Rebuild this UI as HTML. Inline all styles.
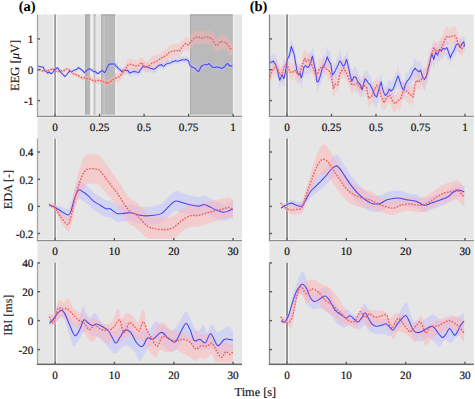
<!DOCTYPE html>
<html><head><meta charset="utf-8"><style>html,body{margin:0;padding:0;background:#fff;overflow:hidden}svg{display:block;font-family:"Liberation Serif",serif;text-rendering:geometricPrecision}</style></head>
<body><svg width="475" height="399" viewBox="0 0 475 399"><rect x="0" y="0" width="475" height="399" fill="#fff"/><rect x="37.5" y="14.5" width="204.5" height="349.8" fill="#e6e6e6"/><rect x="269.5" y="14.5" width="204.3" height="349.8" fill="#e6e6e6"/><rect x="85.3" y="14.5" width="5" height="101.9" fill="#b6b6b6"/><rect x="90.3" y="14.5" width="3.5" height="101.9" fill="#efefef"/><rect x="93.8" y="14.5" width="2" height="101.9" fill="#d0d0d0"/><rect x="101.3" y="14.5" width="3.3" height="101.9" fill="#c0c0c0"/><rect x="104.6" y="14.5" width="10.7" height="101.9" fill="#b9b9b9"/><rect x="115.3" y="14.5" width="1.5" height="101.9" fill="#eeeeee"/><rect x="190.2" y="14.5" width="42.7" height="101.9" fill="#bababa"/><rect x="232.9" y="14.5" width="1.3" height="101.9" fill="#ececec"/><line x1="85.8" y1="14.5" x2="85.8" y2="116.4" stroke="#a6a6a6" stroke-width="1"/><line x1="94.2" y1="14.5" x2="94.2" y2="116.4" stroke="#bcbcbc" stroke-width="1"/><line x1="101.8" y1="14.5" x2="101.8" y2="116.4" stroke="#a9a9a9" stroke-width="1"/><line x1="190.7" y1="14.5" x2="190.7" y2="116.4" stroke="#a9a9a9" stroke-width="1"/><line x1="85.3" y1="15" x2="90.3" y2="15" stroke="#a4a4a4" stroke-width="1"/><line x1="93.8" y1="15" x2="95.8" y2="15" stroke="#a4a4a4" stroke-width="1"/><line x1="101.3" y1="15" x2="115.3" y2="15" stroke="#a4a4a4" stroke-width="1"/><line x1="190.2" y1="15" x2="232.9" y2="15" stroke="#a4a4a4" stroke-width="1"/><defs><clipPath id="c00"><rect x="37.5" y="14.5" width="204.5" height="101.9"/></clipPath><clipPath id="c01"><rect x="37.5" y="138.5" width="204.5" height="102.1"/></clipPath><clipPath id="c02"><rect x="37.5" y="262.8" width="204.5" height="101.5"/></clipPath><clipPath id="c10"><rect x="269.5" y="14.5" width="204.3" height="101.9"/></clipPath><clipPath id="c11"><rect x="269.5" y="138.5" width="204.3" height="102.1"/></clipPath><clipPath id="c12"><rect x="269.5" y="262.8" width="204.3" height="101.5"/></clipPath></defs><line x1="55.1" y1="14.5" x2="55.1" y2="116.4" stroke="#f7f7f7" stroke-width="4"/><line x1="55.1" y1="14.5" x2="55.1" y2="116.4" stroke="#9c9c9c" stroke-width="1.8"/><line x1="55.1" y1="138.5" x2="55.1" y2="240.6" stroke="#f7f7f7" stroke-width="4"/><line x1="55.1" y1="138.5" x2="55.1" y2="240.6" stroke="#9c9c9c" stroke-width="1.8"/><line x1="55.1" y1="262.8" x2="55.1" y2="364.3" stroke="#f7f7f7" stroke-width="4"/><line x1="55.1" y1="262.8" x2="55.1" y2="364.3" stroke="#9c9c9c" stroke-width="1.8"/><line x1="287" y1="14.5" x2="287" y2="116.4" stroke="#f7f7f7" stroke-width="4"/><line x1="287" y1="14.5" x2="287" y2="116.4" stroke="#868686" stroke-width="1.8"/><line x1="287" y1="138.5" x2="287" y2="240.6" stroke="#f7f7f7" stroke-width="4"/><line x1="287" y1="138.5" x2="287" y2="240.6" stroke="#868686" stroke-width="1.8"/><line x1="287" y1="262.8" x2="287" y2="364.3" stroke="#f7f7f7" stroke-width="4"/><line x1="287" y1="262.8" x2="287" y2="364.3" stroke="#868686" stroke-width="1.8"/><g clip-path="url(#c00)"><path d="M37 64.3 L38.2 64.6 L39.5 65.2 L40.5 65.5 L41.4 65.6 L42.2 65.9 L43.1 65.3 L43.5 67 L43.9 66.8 L44.8 68.6 L45.8 69.8 L46.8 70 L47.7 72.4 L48.7 70.6 L49.6 71.3 L50.5 72.7 L51.5 71.9 L52.1 72.3 L52.8 71.9 L53.8 69.8 L54.7 67.3 L56 67.6 L57.2 66.4 L58.5 67.4 L59.7 68.9 L61 71 L62.3 72.1 L63.5 74.3 L64.8 74.8 L66 73.8 L67.3 72.8 L68.5 71.4 L69.8 68.9 L70.8 68.9 L71.7 70.7 L72.7 70.2 L73.6 69.2 L74.9 68.4 L76.2 67.4 L77.5 66.6 L78.7 65.7 L80 67 L81.2 67.1 L82.8 69.4 L84.4 71.5 L85.7 69.2 L86.9 69.1 L87.8 67.9 L88.8 68 L89.8 67.3 L90.7 68.3 L92 68.2 L93.2 69.9 L94.1 70 L95 68.8 L96.4 70.1 L97.8 71.4 L99.2 70.8 L100.6 69.3 L101.4 69.4 L102.3 68.6 L103.4 69.4 L104.6 70.2 L105.8 68.6 L106.9 66.6 L108 64.2 L109.1 62 L110.5 62.3 L111.9 60.7 L113.3 60.5 L114.8 60.6 L115.9 62.4 L117 63.1 L118.2 65.6 L119.3 66.8 L120.4 66 L121.5 68.5 L122.7 68.2 L123.8 68 L124.7 66.1 L125.5 66.9 L126.7 66.7 L127.8 66.2 L128.6 67.3 L129.4 69.7 L130.2 70.2 L131.1 68.4 L132.6 67.7 L134 67.7 L135.4 67.4 L136.8 68.5 L137.9 69.1 L139 69.1 L139.5 67.1 L140 66.1 L140.8 65.5 L141.6 65.2 L142.4 64.5 L143.3 62.4 L144.2 62.7 L145.2 63.1 L146.2 63.3 L147.2 62.3 L148.1 63.4 L149.1 64.1 L150.4 65.6 L151.7 64.5 L153 66.5 L154.3 66.4 L155.6 64.7 L156.9 63.2 L158.2 61.8 L159.5 62 L160.5 62.3 L161.5 61.8 L162.5 62 L163.5 62.9 L164.4 61.6 L165.4 60.8 L166.7 60.2 L168 59.1 L169.3 59.1 L170.6 60.4 L171.9 58.2 L173.2 58.2 L174.2 58.1 L175.2 57.2 L176.5 57.8 L177.8 57.9 L179.1 57.3 L180.4 56.5 L181.7 56.6 L183 56.7 L184.7 56.9 L186.3 55.6 L187.2 56.8 L188 57.4 L188.7 58.6 L189.3 59.5 L190 61.6 L190.7 62.3 L191.7 63.7 L192.7 63.8 L193.6 63.9 L194.6 64.4 L195.6 65.6 L196.6 67.3 L197.5 68.1 L198.4 67.7 L199.2 67.1 L200 65.8 L201 62.7 L202 63 L203 61.2 L204 61.8 L205 60.5 L206 62.4 L207 61.8 L208 60.4 L208.7 60.5 L209.3 61 L209.9 62 L210.6 61.9 L211.6 63.6 L212.6 64.5 L213.6 64.8 L214.6 64.1 L215.6 64.6 L216.6 64.2 L217.6 63.7 L218.6 63.6 L219.6 64.2 L220.6 64.7 L221.6 65.5 L222.6 65.4 L223.6 64.6 L224.6 63 L225.6 61.2 L226.6 61.8 L227.2 61 L227.9 61.3 L228.6 62.1 L229.2 63.2 L229.9 61.7 L230.6 62.4 L231.4 62.7 L232.3 63.5 L232.3 70.2 L231.4 68.1 L230.6 69.2 L229.9 68.3 L229.2 69.2 L228.6 68.2 L227.9 66.7 L227.2 66.7 L226.6 68 L225.6 67.8 L224.6 70.1 L223.6 71.2 L222.6 71.2 L221.6 71.1 L220.6 70.6 L219.6 69.7 L218.6 70.6 L217.6 70.5 L216.6 70.2 L215.6 71 L214.6 70.4 L213.6 70.4 L212.6 71.5 L211.6 69 L210.6 67.3 L209.9 68 L209.3 66.8 L208.7 66.7 L208 67.3 L207 68.6 L206 68.7 L205 67.4 L204 68.9 L203 69.4 L202 69.7 L201 69.7 L200 71.5 L199.2 74.1 L198.4 75.3 L197.5 75.2 L196.6 74 L195.6 72.6 L194.6 70.9 L193.6 71.6 L192.7 71.4 L191.7 69.8 L190.7 68.9 L190 68 L189.3 66.6 L188.7 65 L188 64.3 L187.2 63.5 L186.3 62.5 L184.7 62.5 L183 62.9 L181.7 62.6 L180.4 63.2 L179.1 63.1 L177.8 64.3 L176.5 64.3 L175.2 63.3 L174.2 64.4 L173.2 65.4 L171.9 64.6 L170.6 65.4 L169.3 65.7 L168 65.8 L166.7 66.5 L165.4 68.3 L164.4 68.7 L163.5 69.2 L162.5 69.8 L161.5 67.5 L160.5 68.4 L159.5 67.9 L158.2 68.8 L156.9 71 L155.6 72.3 L154.3 73.4 L153 73.3 L151.7 72.3 L150.4 72.3 L149.1 71 L148.1 71.7 L147.2 70.7 L146.2 71.2 L145.2 70.4 L144.2 69.5 L143.3 68.7 L142.4 69.7 L141.6 71.8 L140.8 73.8 L140 73.4 L139.5 75.4 L139 76 L137.9 76.5 L136.8 75.3 L135.4 75.9 L134 74.2 L132.6 74.4 L131.1 76.6 L130.2 77.3 L129.4 76.9 L128.6 74.8 L127.8 73.4 L126.7 74.9 L125.5 74.2 L124.7 72.9 L123.8 74.7 L122.7 74 L121.5 75.5 L120.4 72.7 L119.3 71.9 L118.2 71.7 L117 70.6 L115.9 69.2 L114.8 66.2 L113.3 66.4 L111.9 66.6 L110.5 66.4 L109.1 66.4 L108 67.7 L106.9 70 L105.8 73.1 L104.6 74.9 L103.4 73.4 L102.3 73.1 L101.4 73.2 L100.6 73.3 L99.2 75.3 L97.8 74.7 L96.4 74.9 L95 73 L94.1 74.4 L93.2 73.3 L92 71.9 L90.7 70.7 L89.8 71.4 L88.8 70 L87.8 72.2 L86.9 71.2 L85.7 74.1 L84.4 74.3 L82.8 72.9 L81.2 70.9 L80 69.5 L78.7 68.4 L77.5 69.8 L76.2 71.9 L74.9 71.3 L73.6 72 L72.7 72.4 L71.7 73.8 L70.8 71.9 L69.8 72.4 L68.5 74 L67.3 75.3 L66 77 L64.8 78.5 L63.5 76.5 L62.3 76.3 L61 73.4 L59.7 71.7 L58.5 69.7 L57.2 68.8 L56 70.9 L54.7 70.3 L53.8 72 L52.8 73.4 L52.1 74.1 L51.5 75.7 L50.5 73.9 L49.6 73.9 L48.7 73.4 L47.7 75.1 L46.8 73.7 L45.8 73 L44.8 70.9 L43.9 69.3 L43.5 68.6 L43.1 67.5 L42.2 67.5 L41.4 68.1 L40.5 67.5 L39.5 67.3 L38.2 67.9 L37 66.2 Z" fill="rgba(190,190,255,0.4)"/><path d="M37 67.7 L38.2 68.3 L39.5 69.1 L40.8 68.1 L42.1 70 L43.4 70 L44.6 70.4 L45.9 69 L47.1 69.2 L48.4 68.8 L49.6 69.2 L51.2 67.4 L52.8 67.1 L54 68.3 L55.3 69.9 L56.5 70.6 L57.8 69.6 L59.1 70.7 L60.4 68.4 L61.6 69.7 L62.9 70.4 L64.2 68.2 L65.4 68.2 L66.7 67.3 L67.9 68 L69.2 67.5 L70.5 69.6 L71.8 71.1 L73 72.3 L74.2 71.3 L75.5 71.1 L77.1 73.9 L78.7 73.5 L80.2 75.6 L81.8 74.6 L83.4 76 L85 75.6 L86.6 76.7 L88.2 75.3 L89.8 75.8 L91.3 75.8 L92.9 77.7 L94.5 78.1 L95.8 78.6 L97 76.7 L98.2 77.6 L99.5 77.4 L101.2 76.9 L102.9 77.4 L104.1 79 L105.2 78.4 L106.1 78.4 L106.9 79.4 L108 79.6 L109.1 77.5 L110.5 77.5 L111.9 76.3 L113.6 75 L115.3 73 L117 73 L118.7 73.1 L120.4 70.2 L122.1 68.4 L123.5 67 L124.9 64.7 L126.3 62.2 L127.7 59 L129.4 60 L131.1 58.3 L132.8 59.4 L134.5 59.8 L135.9 60.5 L137.3 61.1 L138.7 59.4 L140 57.3 L141 58.3 L142 57.4 L142.9 57.8 L143.9 60.1 L144.9 61.2 L145.9 61 L146.9 61.6 L147.8 62 L148.8 60.2 L149.8 58.9 L150.8 57.7 L151.7 56.7 L153 56.1 L154.3 55.7 L155.6 54.8 L156.9 55.6 L158.2 53.9 L159.5 53.6 L160.5 53.4 L161.5 52.2 L162.5 50 L163.5 51.7 L164.8 48.8 L166.1 49.4 L167.4 48.4 L168.7 46.6 L170 45.2 L171.3 44.2 L172.6 43.8 L173.9 44.4 L175.2 43.3 L176.5 43.5 L177.4 43.5 L178.4 44.1 L179.4 43.8 L180.4 43.1 L181.7 40.7 L183 39.2 L184.3 38 L185.6 36.9 L186.8 37.2 L188 38.1 L189 37.8 L190 35.9 L191 33.7 L192 33.1 L193 31.7 L194 31.2 L195 30.2 L196 30.6 L197.3 30.2 L198.6 30.2 L199.9 31.4 L201.3 30.7 L202.3 31.4 L203.3 31.5 L204.3 30.1 L205.3 30.3 L206.7 29.5 L208 31.2 L208.9 30.7 L209.9 30.3 L210.9 31 L211.9 31.5 L212.6 32.9 L213.3 34.1 L213.9 34.6 L214.6 36.8 L215.4 37.9 L216.2 39.1 L217.1 37.9 L217.9 38 L218.9 36.5 L219.9 35.1 L220.9 34.3 L221.9 33.8 L222.9 34.4 L223.9 35.5 L224.9 36 L225.9 35.3 L226.8 37.2 L227.6 36.8 L228.4 38.4 L229.2 39.9 L230 41.7 L230.8 41.1 L231.6 41.4 L232.3 42.6 L232.3 55.2 L231.6 54.6 L230.8 55.5 L230 54.8 L229.2 53.8 L228.4 52 L227.6 50.7 L226.8 51.6 L225.9 49.2 L224.9 50.2 L223.9 48.4 L222.9 48.7 L221.9 48.5 L220.9 48.9 L219.9 49.7 L218.9 51.2 L217.9 51.5 L217.1 52.3 L216.2 53.2 L215.4 51.3 L214.6 50.4 L213.9 48.5 L213.3 48.4 L212.6 47.4 L211.9 44.6 L210.9 45.4 L209.9 44.4 L208.9 44 L208 44.9 L206.7 44.1 L205.3 44.3 L204.3 43.3 L203.3 44.4 L202.3 44.8 L201.3 45 L199.9 44 L198.6 44.9 L197.3 44.5 L196 43.6 L195 44.2 L194 44.6 L193 46.5 L192 47.9 L191 48.6 L190 48.8 L189 50.2 L188 51.7 L186.8 50.8 L185.6 50.7 L184.3 50.8 L183 53.1 L181.7 53.5 L180.4 56 L179.4 57.2 L178.4 59 L177.4 57.3 L176.5 56.2 L175.2 56.7 L173.9 57.3 L172.6 58.4 L171.3 58.7 L170 58 L168.7 58.8 L167.4 61.2 L166.1 62.3 L164.8 62.6 L163.5 64.4 L162.5 64.1 L161.5 63.6 L160.5 64.6 L159.5 65.6 L158.2 67 L156.9 68.1 L155.6 67.3 L154.3 69.1 L153 69.7 L151.7 68.9 L150.8 70.8 L149.8 70.8 L148.8 71.2 L147.8 73.8 L146.9 72.5 L145.9 72.8 L144.9 73.4 L143.9 71.5 L142.9 70.4 L142 67.6 L141 68.1 L140 69 L138.7 70.8 L137.3 71.6 L135.9 71.2 L134.5 72 L132.8 71 L131.1 70.1 L129.4 70.2 L127.7 70.4 L126.3 73.6 L124.9 75.2 L123.5 75.8 L122.1 78.9 L120.4 80.1 L118.7 82.7 L117 82.6 L115.3 83.3 L113.6 83.4 L111.9 84.9 L110.5 85.1 L109.1 86.4 L108 86.5 L106.9 88.2 L106.1 86.5 L105.2 85.8 L104.1 85.8 L102.9 84.6 L101.2 84.2 L99.5 83 L98.2 84.4 L97 84.5 L95.8 83.8 L94.5 84.4 L92.9 82.9 L91.3 82.3 L89.8 82.2 L88.2 81.4 L86.6 80.7 L85 80 L83.4 80.6 L81.8 79.7 L80.2 79.5 L78.7 77.8 L77.1 77.2 L75.5 75.7 L74.2 76.2 L73 75.1 L71.8 74.8 L70.5 73.7 L69.2 71.3 L67.9 71.1 L66.7 69.8 L65.4 71 L64.2 73 L62.9 73.6 L61.6 72.5 L60.4 72.2 L59.1 72.6 L57.8 73 L56.5 72.4 L55.3 72.4 L54 70.8 L52.8 70 L51.2 71.3 L49.6 72.3 L48.4 72 L47.1 72.3 L45.9 72.9 L44.6 72.8 L43.4 71.5 L42.1 72.7 L40.8 71.8 L39.5 70 L38.2 71 L37 70.3 Z" fill="rgba(255,180,180,0.42)"/><path d="M37 65.7 L38.2 65.9 L39.5 66.6 L40.5 66.8 L41.4 67 L42.2 66.9 L43.1 67 L43.5 68.1 L43.9 68.9 L44.8 70.3 L45.8 71.4 L46.8 71.9 L47.7 73.3 L48.7 72.2 L49.6 72.1 L50.5 73.2 L51.5 73.7 L52.1 73 L52.8 72.7 L53.8 70.8 L54.7 69.5 L56 69 L57.2 67.6 L58.5 69.2 L59.7 70.8 L61 72.7 L62.3 74 L63.5 75.2 L64.8 76.5 L66 75.4 L67.3 74 L68.5 72.1 L69.8 70.8 L70.8 71.2 L71.7 71.4 L72.7 71.2 L73.6 70.2 L74.9 69.9 L76.2 69.5 L77.5 68.8 L78.7 67.6 L80 68.7 L81.2 69.5 L82.8 70.7 L84.4 72.7 L85.7 71.7 L86.9 70.2 L87.8 69.6 L88.8 68.9 L89.8 69 L90.7 69.5 L92 70 L93.2 71.4 L94.1 71.8 L95 71.4 L96.4 72.5 L97.8 73.7 L99.2 72.8 L100.6 71.4 L101.4 71.2 L102.3 70.3 L103.4 71.7 L104.6 72.6 L105.8 70.8 L106.9 68.1 L108 66 L109.1 64.1 L110.5 64.3 L111.9 63.8 L113.3 63.9 L114.8 64.1 L115.9 65.9 L117 66.9 L118.2 68.4 L119.3 69.2 L120.4 69.9 L121.5 71.4 L122.7 70.8 L123.8 70.9 L124.7 70.2 L125.5 70.1 L126.7 70.7 L127.8 70.3 L128.6 71.6 L129.4 73.1 L130.2 73 L131.1 72.6 L132.6 71.8 L134 71.4 L135.4 71.7 L136.8 72 L137.9 72.2 L139 72.6 L139.5 71.4 L140 70.4 L140.8 69.5 L141.6 68.4 L142.4 67.2 L143.3 65.8 L144.2 66.9 L145.2 67.1 L146.2 66.9 L147.2 66.4 L148.1 67.5 L149.1 67.7 L150.4 68.4 L151.7 68.4 L153 69.2 L154.3 69.1 L155.6 68.3 L156.9 67.1 L158.2 65.8 L159.5 65.1 L160.5 65.2 L161.5 64.5 L162.5 65.9 L163.5 66.4 L164.4 65.9 L165.4 64.5 L166.7 63.9 L168 63.2 L169.3 63.3 L170.6 62.9 L171.9 62 L173.2 61.6 L174.2 61.4 L175.2 60.6 L176.5 61 L177.8 61.2 L179.1 60.7 L180.4 60.6 L181.7 59.7 L183 59.7 L184.7 59.9 L186.3 59.3 L187.2 60.2 L188 60.2 L188.7 61.5 L189.3 63.6 L190 65.2 L190.7 66.2 L191.7 66.7 L192.7 67.3 L193.6 67.4 L194.6 68.2 L195.6 69 L196.6 70.2 L197.5 71.1 L198.4 71.5 L199.2 70.6 L200 68.9 L201 66.8 L202 65.6 L203 65.4 L204 64.9 L205 64.4 L206 64.9 L207 64.8 L208 64.2 L208.7 63.7 L209.3 63.6 L209.9 64.6 L210.6 64.9 L211.6 66.6 L212.6 67.3 L213.6 67.3 L214.6 67.3 L215.6 67.6 L216.6 66.9 L217.6 66.9 L218.6 67.3 L219.6 67.3 L220.6 68.2 L221.6 68.3 L222.6 68.2 L223.6 67.1 L224.6 66.9 L225.6 65.2 L226.6 64.2 L227.2 63.8 L227.9 63.6 L228.6 64.7 L229.2 65.6 L229.9 65.6 L230.6 66.2 L231.4 65.7 L232.3 66.2" fill="none" stroke="#4646f0" stroke-width="1.05" stroke-linejoin="round"/><path d="M37 68.9 L38.2 68.9 L39.5 69.5 L40.8 69.8 L42.1 70.8 L43.4 71 L44.6 71.4 L45.9 71.1 L47.1 71.4 L48.4 70.4 L49.6 70.2 L51.2 69.3 L52.8 68.6 L54 70.1 L55.3 70.8 L56.5 71.4 L57.8 71.4 L59.1 71.4 L60.4 70.8 L61.6 70.8 L62.9 71.4 L64.2 70.5 L65.4 69.5 L66.7 69 L67.9 68.9 L69.2 69.8 L70.5 71.4 L71.8 72.3 L73 74 L74.2 73.7 L75.5 74 L77.1 75.3 L78.7 75.8 L80.2 77.1 L81.8 77.7 L83.4 78 L85 77.7 L86.6 78.7 L88.2 79 L89.8 79 L91.3 79.6 L92.9 80.4 L94.5 81.5 L95.8 81 L97 80.3 L98.2 80.5 L99.5 80.2 L101.2 81 L102.9 81 L104.1 82 L105.2 82.2 L106.1 82.6 L106.9 83.8 L108 83.1 L109.1 82.2 L110.5 81.5 L111.9 80.5 L113.6 79.4 L115.3 78.2 L117 77.3 L118.7 77.1 L120.4 75.4 L122.1 73.7 L123.5 71.3 L124.9 69.7 L126.3 67.9 L127.7 65.2 L129.4 65 L131.1 64.1 L132.8 65 L134.5 65.8 L135.9 65.9 L137.3 66.4 L138.7 65.5 L140 63.8 L141 63.2 L142 62.5 L142.9 64.5 L143.9 65.8 L144.9 66.8 L145.9 67.1 L146.9 67.1 L147.8 67.1 L148.8 66 L149.8 65.1 L150.8 64.2 L151.7 63.2 L153 62.8 L154.3 62.5 L155.6 61.5 L156.9 61.2 L158.2 60.1 L159.5 59.3 L160.5 59 L161.5 58 L162.5 57.2 L163.5 57.3 L164.8 55.9 L166.1 55.4 L167.4 54.2 L168.7 52.8 L170 51.9 L171.3 51.5 L172.6 51.2 L173.9 50.8 L175.2 50.5 L176.5 50.2 L177.4 50.7 L178.4 51.5 L179.4 51 L180.4 49.5 L181.7 47.5 L183 46.2 L184.3 44.8 L185.6 43.6 L186.8 44 L188 45 L189 43.8 L190 42.3 L191 41.1 L192 40.3 L193 39.2 L194 38.3 L195 37.9 L196 37 L197.3 36.9 L198.6 37.2 L199.9 37.6 L201.3 37.9 L202.3 38.2 L203.3 37.6 L204.3 36.9 L205.3 37 L206.7 36.7 L208 37.2 L208.9 37.1 L209.9 37.6 L210.9 38.2 L211.9 38.3 L212.6 39.8 L213.3 41 L213.9 42 L214.6 43.6 L215.4 44.4 L216.2 45.6 L217.1 45 L217.9 45 L218.9 43.5 L219.9 42 L220.9 41.3 L221.9 41.6 L222.9 41.8 L223.9 41.6 L224.9 42.3 L225.9 42.3 L226.8 43.8 L227.6 44.3 L228.4 45.8 L229.2 46.9 L230 48.4 L230.8 48.9 L231.6 48.4 L232.3 48.9" fill="none" stroke="#f06060" stroke-width="1.55" stroke-dasharray="0.4 2.6" stroke-linecap="round" stroke-linejoin="round"/></g><g clip-path="url(#c10)"><path d="M269.5 56.9 L270.4 57.3 L271.3 55.1 L272.3 54.7 L273.3 53 L273.8 57.4 L274.3 54.4 L274.9 54.1 L275.5 55.6 L276.2 57.3 L277 60.4 L277.8 63.2 L278.5 65.1 L279.1 68.9 L279.7 71.5 L280.5 71.2 L281.3 66.9 L281.8 65.3 L282.3 65.4 L283.1 69.4 L283.8 70.1 L284.6 68.8 L285.3 66.3 L286.3 57.6 L287.3 48.7 L288.2 50.9 L289.1 49.2 L289.7 44.8 L290.3 44.1 L290.8 39.5 L291.3 40.2 L292.1 42.1 L292.8 43.9 L293.6 46.7 L294.4 45.2 L295.1 51.5 L295.9 57 L296.6 61.8 L297.4 63.3 L298.1 62.7 L298.9 66.7 L299.4 63.3 L299.9 65.6 L300.6 64.1 L301.4 68.6 L302.1 66.1 L302.9 60.8 L303.5 60 L304.1 57.6 L305.1 56.1 L306 59.1 L306.8 60 L307.5 60.6 L308.4 56.5 L309.4 54.2 L310.1 54.3 L310.9 50.9 L311.6 50.8 L312.4 45.8 L313.1 48.1 L313.9 52.7 L314.6 56.8 L315.4 61.9 L316.2 66.2 L317 71.6 L317.8 73.9 L318.5 69.7 L319.4 68.1 L320.3 68 L321.4 64.2 L322.4 56.9 L323.5 55.1 L324.6 55.6 L326 52.4 L327.3 45 L328.1 50 L329 50.8 L329.9 51.5 L330.8 52.9 L331.6 59.2 L332.5 65.9 L333.4 62.8 L334.3 64.2 L335.2 64 L336.1 60.9 L337 56 L337.8 57.2 L338.7 55.5 L339.6 49.3 L340.5 51.8 L341.3 54.7 L342.2 57.9 L343.1 59.7 L344 56.9 L344.8 56.1 L345.7 55.3 L346.6 48.7 L347.5 53.9 L348.3 54.8 L349.2 62.8 L350.1 67 L351 67.9 L351.8 70.5 L352.9 70.2 L353.9 69.2 L355 65.8 L356.2 67.7 L357.1 71.1 L358 71.8 L359.1 76.4 L360.3 77 L361.2 80.5 L362.1 81.7 L363 78.4 L363.8 72.8 L364.5 71.6 L365.1 69.5 L366.6 71.3 L368 71 L369.1 76.9 L370.2 73.8 L371.2 77.9 L372.3 82.5 L373.4 82.6 L374.5 88 L375.6 85.9 L376.7 87.8 L377.8 83.2 L378.9 79.8 L380 75.9 L381.1 72.5 L382.1 79.8 L383.2 84.8 L384.3 82.3 L385.4 87.5 L386.5 85.5 L387.6 83.9 L388.4 79.6 L389.1 79.3 L390.1 80 L391.2 81.5 L391.9 81.7 L392.7 80.1 L394.1 76.5 L395.6 72.2 L396.9 72.5 L398.1 66.4 L399.1 72.5 L400 70.9 L401.1 76.9 L402.1 78.9 L402.9 81.1 L403.6 81.6 L404.3 81.5 L405 76.9 L406.1 71.5 L407.2 73.1 L408.6 71.4 L410.1 67 L411.6 66.8 L413 63.8 L414.1 59.4 L415.1 57.1 L416 59.3 L416.9 61.6 L417.9 61.6 L418.8 60.5 L419.7 62 L420.6 61.4 L421.6 65.1 L422.5 66.8 L423.4 70.6 L424.4 71.4 L425.4 67.6 L426.3 66.7 L427.2 66.4 L428.1 58.5 L429.1 56 L430 51.5 L430.9 48.5 L431.9 46 L432.9 45.8 L433.8 49.2 L434.7 44.5 L435.6 41.4 L436.6 45.1 L437.5 46.4 L438.4 46.5 L439.4 40.7 L440.4 41.8 L441.3 40.3 L442.2 39.6 L443.2 39.2 L444.1 39 L445 42.9 L445.9 40 L446.9 37.5 L447.9 42.5 L448.8 43.4 L449.6 45.7 L450.3 50.7 L451.2 45.4 L452.2 46.9 L453.3 43.8 L454.4 39.4 L455.4 40.3 L456.3 39.8 L457.5 38.1 L458.6 38.4 L459.4 41.2 L460.1 39 L461 38.5 L461.9 38 L462.9 35 L463.8 37.5 L464.2 36.8 L464.7 36.9 L464.7 53.3 L464.2 52.9 L463.8 48.5 L462.9 51.3 L461.9 52.6 L461 53 L460.1 54 L459.4 53.6 L458.6 52 L457.5 50.3 L456.3 53.3 L455.4 54.8 L454.4 56.1 L453.3 56.7 L452.2 60.6 L451.2 61.1 L450.3 67.7 L449.6 64.2 L448.8 59.1 L447.9 60.8 L446.9 57.3 L445.9 55.6 L445 57.1 L444.1 54 L443.2 57.4 L442.2 60.3 L441.3 58.4 L440.4 57.4 L439.4 60.4 L438.4 61.4 L437.5 65.2 L436.6 63.7 L435.6 59 L434.7 65.4 L433.8 68.4 L432.9 64.1 L431.9 63.8 L430.9 67.6 L430 70.9 L429.1 73.2 L428.1 79.1 L427.2 83.9 L426.3 84.3 L425.4 88.8 L424.4 90.9 L423.4 88.8 L422.5 85.9 L421.6 81.9 L420.6 81 L419.7 81 L418.8 81 L417.9 79.9 L416.9 76.7 L416 78.2 L415.1 77.9 L414.1 81.1 L413 80.7 L411.6 85.8 L410.1 86 L408.6 88.7 L407.2 92.6 L406.1 91 L405 93.5 L404.3 96.7 L403.6 98.2 L402.9 100.5 L402.1 98.9 L401.1 92.8 L400 88.9 L399.1 89.5 L398.1 85.5 L396.9 89.2 L395.6 89.1 L394.1 97.3 L392.7 98.5 L391.9 98.6 L391.2 99.5 L390.1 98.9 L389.1 97.2 L388.4 100.3 L387.6 100 L386.5 102.1 L385.4 102 L384.3 103.5 L383.2 101.7 L382.1 94.2 L381.1 88.9 L380 93 L378.9 99.1 L377.8 103.6 L376.7 106.9 L375.6 107.7 L374.5 106.3 L373.4 103.2 L372.3 97.5 L371.2 96.2 L370.2 92.7 L369.1 91.7 L368 89.4 L366.6 91.8 L365.1 87.6 L364.5 89.5 L363.8 90.1 L363 96.3 L362.1 96.2 L361.2 96.3 L360.3 91.7 L359.1 92.1 L358 93.5 L357.1 89.1 L356.2 87.4 L355 85.3 L353.9 83.8 L352.9 87.2 L351.8 87.9 L351 85.3 L350.1 86.3 L349.2 77.7 L348.3 74.7 L347.5 73 L346.6 66.3 L345.7 73.2 L344.8 76.1 L344 76.5 L343.1 73.2 L342.2 71.1 L341.3 72.2 L340.5 69.9 L339.6 72.4 L338.7 74.3 L337.8 73.2 L337 77.4 L336.1 80.1 L335.2 78.5 L334.3 81.2 L333.4 83.8 L332.5 84.5 L331.6 75.8 L330.8 72.7 L329.9 72.5 L329 67.7 L328.1 70.6 L327.3 68.3 L326 67.8 L324.6 73.2 L323.5 77.4 L322.4 79 L321.4 81.8 L320.3 87.6 L319.4 85 L318.5 88.5 L317.8 91.4 L317 91.4 L316.2 84.6 L315.4 76.9 L314.6 74.5 L313.9 72.1 L313.1 70.9 L312.4 65.3 L311.6 67.2 L310.9 73.4 L310.1 72.9 L309.4 73 L308.4 74.6 L307.5 78.8 L306.8 73.5 L306 76.1 L305.1 74.2 L304.1 73.7 L303.5 76.3 L302.9 81.5 L302.1 82.7 L301.4 88.5 L300.6 87.6 L299.9 80 L299.4 83.4 L298.9 82.2 L298.1 81.4 L297.4 82 L296.6 76.4 L295.9 73.7 L295.1 67 L294.4 65.5 L293.6 64 L292.8 57.1 L292.1 57.9 L291.3 53.4 L290.8 57.3 L290.3 60.8 L289.7 60.3 L289.1 63.6 L288.2 63.6 L287.3 69.9 L286.3 72.3 L285.3 79.5 L284.6 86.2 L283.8 85.6 L283.1 86 L282.3 84.5 L281.8 80.7 L281.3 81.7 L280.5 86.5 L279.7 90.4 L279.1 86.1 L278.5 80.1 L277.8 77 L277 78.8 L276.2 71.2 L275.5 70 L274.9 69.4 L274.3 73 L273.8 71.6 L273.3 70.9 L272.3 69.7 L271.3 66.6 L270.4 69.5 L269.5 67.7 Z" fill="rgba(190,190,255,0.38)"/><path d="M269.5 74 L270.2 70.3 L271 68.6 L271.8 67.1 L272.5 61.9 L273.6 62.7 L274.8 62.5 L275.6 61.4 L276.3 59.8 L277.1 58.7 L277.8 61.1 L278.6 66.5 L279.3 63.8 L280.3 65.3 L281.3 70 L282.2 64.9 L283.1 61.3 L284 58.8 L284.9 59.9 L285.9 55.5 L286.8 54.9 L287.6 58.2 L288.3 62.2 L289.1 61.9 L289.8 61.9 L291 64.9 L292.1 62.4 L293 61.8 L293.9 60.9 L294.9 63.6 L295.9 62 L296.9 65.9 L297.8 65.1 L298.7 64.2 L299.6 62.7 L300.5 64.3 L301.4 62.1 L302.4 55.2 L303.4 51.9 L304.1 49 L304.9 51.1 L305.6 51.2 L306.4 51.3 L307.4 52.9 L308.4 52.3 L309.3 52.9 L310.2 52.1 L311.1 56.1 L312 57.3 L312.9 58.9 L313.9 60.4 L314.9 67 L315.9 69.6 L316.7 67.6 L317.5 68.6 L318 65 L318.5 61.7 L319.8 58.3 L321.1 59.6 L322.5 58.3 L323.8 56.9 L324.6 61.9 L325.5 62.6 L326.6 58.9 L327.6 63.7 L328.8 59.7 L329.9 64.2 L330.8 64.9 L331.7 70.7 L332.5 77.2 L333.4 81 L334.3 79.4 L335.2 73.1 L336.5 77.1 L337.8 74.3 L338.7 71.3 L339.6 65.9 L340.6 62 L341.7 63.8 L342.8 58.9 L343.9 58.4 L345 59.6 L346.2 65.1 L347.2 65.4 L348.3 66.8 L349.2 68.7 L350.1 71.2 L351.1 74.8 L352.2 73.6 L353.4 73.4 L354.5 77.2 L355.8 75.6 L357.1 72.5 L358.1 75.3 L359.2 76 L360.1 78 L361 79.1 L361.9 77 L362.9 75.2 L364.7 75.9 L366.5 77.3 L367.6 85 L368.7 92.1 L370.1 89.3 L371.6 87.5 L372.7 82.3 L373.8 80.9 L375.2 80.7 L376.7 76.3 L377.8 79.1 L378.9 80.6 L380 81.8 L381.1 86.9 L382.6 89.4 L384 95.2 L385.4 89.2 L386.9 87.1 L388.4 89.7 L389.8 85.5 L391.2 92.2 L392.7 92.1 L394.1 96 L395.6 94.7 L396.7 91 L397.8 92.4 L399.2 89.4 L400.7 92.1 L402.1 86.6 L403.6 81.2 L405.1 84.1 L406.5 82.6 L408.3 86.4 L410.1 86.5 L411.6 85.2 L413 87 L414.1 83.6 L415.1 72.1 L416 75.6 L416.9 68.9 L417.9 74 L418.8 74 L419.7 71.5 L420.6 72 L421.6 70.7 L422.5 67.9 L423.4 68 L424.4 67 L425.4 69.5 L426.3 68.9 L427.2 62.6 L428.1 61.2 L429.1 54.7 L430 50.3 L430.9 50.4 L431.9 48.4 L432.9 40.2 L433.8 40.7 L434.7 39 L435.6 44 L436.6 40.8 L437.5 44.3 L438.4 41.3 L439.4 41.8 L440.4 38.8 L441.3 37.8 L442.2 34.8 L443.2 37 L444.1 30.4 L445 28.4 L446.1 27.3 L447.3 25.8 L448.5 29.6 L449.7 26 L450.9 29.3 L452.2 27.1 L453.3 25.9 L454.4 25.5 L455.4 28.2 L456.3 28.5 L457.2 32.1 L458.2 35 L459.1 36.8 L460.1 38.6 L461.2 38.2 L462.3 41.1 L463.2 40.6 L464.2 36.5 L464.2 51.6 L463.2 54.5 L462.3 59.3 L461.2 53.9 L460.1 55.5 L459.1 52.8 L458.2 52 L457.2 46.8 L456.3 43.6 L455.4 46.5 L454.4 45.7 L453.3 42.4 L452.2 44.9 L450.9 46.6 L449.7 44.7 L448.5 43.7 L447.3 44.1 L446.1 46.6 L445 50.4 L444.1 52.6 L443.2 55.1 L442.2 52.2 L441.3 56 L440.4 56.9 L439.4 61.8 L438.4 58.8 L437.5 56.5 L436.6 57.4 L435.6 60.8 L434.7 56 L433.8 54.2 L432.9 59.2 L431.9 65.7 L430.9 67.6 L430 70.8 L429.1 73 L428.1 79.1 L427.2 80.1 L426.3 84.5 L425.4 86.9 L424.4 89.9 L423.4 86.5 L422.5 88 L421.6 85.3 L420.6 91.2 L419.7 89.5 L418.8 88.8 L417.9 88.9 L416.9 87.5 L416 92.2 L415.1 92.5 L414.1 96.7 L413 107.9 L411.6 102.3 L410.1 105.3 L408.3 103.7 L406.5 100.8 L405.1 99.6 L403.6 97.5 L402.1 101.7 L400.7 108.8 L399.2 110.8 L397.8 108.3 L396.7 110.7 L395.6 112.1 L394.1 111.7 L392.7 111.4 L391.2 105.5 L389.8 102.7 L388.4 104.6 L386.9 105.9 L385.4 109.1 L384 109.4 L382.6 110.4 L381.1 107.5 L380 98.3 L378.9 96.2 L377.8 94.8 L376.7 95.1 L375.2 94.9 L373.8 101.6 L372.7 104.1 L371.6 105.9 L370.1 103 L368.7 109.5 L367.6 101.4 L366.5 96.4 L364.7 96.3 L362.9 92.2 L361.9 93.2 L361 97 L360.1 98.3 L359.2 97 L358.1 90.6 L357.1 91.5 L355.8 92.9 L354.5 90.7 L353.4 90.8 L352.2 95.2 L351.1 93.9 L350.1 88.4 L349.2 87.4 L348.3 85.1 L347.2 81.3 L346.2 82.6 L345 79 L343.9 74.7 L342.8 79.6 L341.7 77.6 L340.6 80.3 L339.6 83.3 L338.7 87.8 L337.8 91.8 L336.5 91.1 L335.2 94.2 L334.3 95.7 L333.4 99.5 L332.5 93.4 L331.7 84.4 L330.8 80.3 L329.9 80.6 L328.8 80.5 L327.6 79.5 L326.6 75 L325.5 76.5 L324.6 73.7 L323.8 72.4 L322.5 72.8 L321.1 73.4 L319.8 76.7 L318.5 80.4 L318 81.8 L317.5 81.9 L316.7 85.4 L315.9 83.4 L314.9 80.8 L313.9 79.7 L312.9 73.4 L312 74.1 L311.1 72.4 L310.2 70.2 L309.3 70.6 L308.4 67.7 L307.4 65.7 L306.4 66.9 L305.6 66 L304.9 65.2 L304.1 65.5 L303.4 68.1 L302.4 70.5 L301.4 77 L300.5 82 L299.6 80.1 L298.7 80.4 L297.8 85 L296.9 82.9 L295.9 79.3 L294.9 80.3 L293.9 76.1 L293 81.9 L292.1 78.6 L291 79.8 L289.8 78.5 L289.1 77.3 L288.3 74.1 L287.6 71.9 L286.8 70.6 L285.9 72.3 L284.9 74 L284 76.2 L283.1 78.1 L282.2 81.1 L281.3 83.4 L280.3 81.9 L279.3 81.1 L278.6 79 L277.8 78.9 L277.1 77.3 L276.3 73 L275.6 73.7 L274.8 76.6 L273.6 77.1 L272.5 75.4 L271.8 78.2 L271 81.2 L270.2 81 L269.5 87.2 Z" fill="rgba(255,180,180,0.38)"/><path d="M269.5 62.9 L270.4 62.8 L271.3 62.1 L272.3 61.8 L273.3 60.9 L273.8 61.9 L274.3 62.9 L274.9 63.4 L275.5 64.4 L276.2 66.2 L277 68.9 L277.8 72.1 L278.5 74.9 L279.1 77.5 L279.7 80.2 L280.5 78.6 L281.3 76.4 L281.8 75.5 L282.3 74.9 L283.1 77.1 L283.8 78.7 L284.6 75.5 L285.3 72.7 L286.3 66.2 L287.3 59.1 L288.2 57.8 L289.1 56.1 L289.7 53.8 L290.3 51.6 L290.8 49 L291.3 46.3 L292.1 48.7 L292.8 50.8 L293.6 52.7 L294.4 55.3 L295.1 59.9 L295.9 64.4 L296.6 68.9 L297.4 72.7 L298.1 73.6 L298.9 74.9 L299.4 74.5 L299.9 73.4 L300.6 75.8 L301.4 77.9 L302.1 75.2 L302.9 71.9 L303.5 69.1 L304.1 66.6 L305.1 65.8 L306 65.9 L306.8 67 L307.5 67.4 L308.4 67 L309.4 65.9 L310.1 63.9 L310.9 62.1 L311.6 58.7 L312.4 56.1 L313.1 59.2 L313.9 62.9 L314.6 66.4 L315.4 69.6 L316.2 75.4 L317 81.7 L317.8 81.9 L318.5 81.2 L319.4 78.7 L320.3 76 L321.4 71.8 L322.4 68.1 L323.5 66.5 L324.6 64.6 L326 60.5 L327.3 56.7 L328.1 59.3 L329 61.1 L329.9 62.8 L330.8 63.7 L331.6 69.4 L332.5 75.1 L333.4 73.9 L334.3 72.5 L335.2 70.9 L336.1 68.9 L337 67.5 L337.8 65.4 L338.7 63.7 L339.6 61.1 L340.5 61.5 L341.3 62.8 L342.2 64.4 L343.1 66.3 L344 65.6 L344.8 64.6 L345.7 61.8 L346.6 59.3 L347.5 62.9 L348.3 66.3 L349.2 70.3 L350.1 75.1 L351 78.5 L351.8 81.2 L352.9 79 L353.9 76.8 L355 76.9 L356.2 77.7 L357.1 80.1 L358 82.1 L359.1 83.2 L360.3 84.7 L361.2 87 L362.1 89.9 L363 86.4 L363.8 83 L364.5 80.6 L365.1 78.9 L366.6 80.4 L368 82.5 L369.1 84 L370.2 84.7 L371.2 87.1 L372.3 89.1 L373.4 91.5 L374.5 94.9 L375.6 96.2 L376.7 97 L377.8 92.9 L378.9 89.8 L380 85.6 L381.1 81.8 L382.1 86.9 L383.2 91.2 L384.3 93.5 L385.4 95.6 L386.5 94.3 L387.6 93.4 L388.4 91.1 L389.1 89.1 L390.1 90 L391.2 91.2 L391.9 90.1 L392.7 89.8 L394.1 86.6 L395.6 82.5 L396.9 78.8 L398.1 76 L399.1 78.8 L400 81.8 L401.1 84.9 L402.1 87.6 L402.9 88.9 L403.6 90.5 L404.3 88.4 L405 85.4 L406.1 83 L407.2 81.1 L408.6 79.7 L410.1 77.4 L411.6 74.5 L413 70.9 L414.1 69.7 L415.1 68.1 L416 69.5 L416.9 70.1 L417.9 70.9 L418.8 71.9 L419.7 71.3 L420.6 70.1 L421.6 73.6 L422.5 76.6 L423.4 78 L424.4 79.4 L425.4 78 L426.3 76.6 L427.2 73.1 L428.1 69.1 L429.1 65.3 L430 61.6 L430.9 57 L431.9 53.2 L432.9 56.7 L433.8 59.7 L434.7 55.7 L435.6 52.2 L436.6 53.6 L437.5 55 L438.4 52.5 L439.4 49.4 L440.4 50 L441.3 51.3 L442.2 49.4 L443.2 48.5 L444.1 48.6 L445 49.4 L445.9 48.5 L446.9 47.5 L447.9 50.2 L448.8 53.2 L449.6 55.3 L450.3 57.9 L451.2 55.5 L452.2 53.2 L453.3 51.7 L454.4 49.4 L455.4 46.8 L456.3 44.7 L457.5 44.2 L458.6 43.8 L459.4 46 L460.1 47.5 L461 45.8 L461.9 43.8 L462.9 42.6 L463.8 41.9 L464.2 44.2 L464.7 46.6" fill="none" stroke="#4646f0" stroke-width="1.05" stroke-linejoin="round"/><path d="M269.5 78.7 L270.2 76.3 L271 74.2 L271.8 72 L272.5 70.4 L273.6 69.1 L274.8 67.4 L275.6 66.6 L276.3 66.6 L277.1 67.8 L277.8 68.9 L278.6 71 L279.3 73.4 L280.3 73.7 L281.3 74.9 L282.2 72.7 L283.1 70.4 L284 67.3 L284.9 65.1 L285.9 63.9 L286.8 62.9 L287.6 65.1 L288.3 68.1 L289.1 69.6 L289.8 71.9 L291 72.2 L292.1 72.7 L293 71.9 L293.9 70.4 L294.9 70.4 L295.9 71.1 L296.9 72.7 L297.8 74.9 L298.7 74.3 L299.6 73.4 L300.5 71.2 L301.4 68.1 L302.4 64.8 L303.4 61.4 L304.1 59.7 L304.9 58.3 L305.6 60.3 L306.4 61.4 L307.4 60.1 L308.4 59.8 L309.3 61.3 L310.2 62.1 L311.1 63.4 L312 65.1 L312.9 67.4 L313.9 70.4 L314.9 72.7 L315.9 75.7 L316.7 74.7 L317.5 74 L318 72.7 L318.5 70.7 L319.8 68.6 L321.1 67.2 L322.5 66.4 L323.8 65.4 L324.6 67.3 L325.5 68.9 L326.6 69.2 L327.6 69.8 L328.8 70.7 L329.9 71.6 L330.8 74.2 L331.7 77.7 L332.5 83 L333.4 89.1 L334.3 86.2 L335.2 83.9 L336.5 84.5 L337.8 84.7 L338.7 79.8 L339.6 75.1 L340.6 72.7 L341.7 70.7 L342.8 69.5 L343.9 68.1 L345 70.3 L346.2 72.5 L347.2 74.9 L348.3 77.7 L349.2 79.7 L350.1 81.2 L351.1 83.1 L352.2 84.7 L353.4 84.4 L354.5 84.7 L355.8 83.9 L357.1 83 L358.1 84.8 L359.2 86.5 L360.1 87.7 L361 88.2 L361.9 87 L362.9 85.4 L364.7 85.9 L366.5 86.9 L367.6 93.2 L368.7 98.5 L370.1 97 L371.6 96.3 L372.7 93.7 L373.8 91.2 L375.2 88.6 L376.7 85.4 L377.8 85.8 L378.9 86.9 L380 91.6 L381.1 96.3 L382.6 99.1 L384 102.9 L385.4 100.1 L386.9 97 L388.4 96.2 L389.8 94.9 L391.2 98.2 L392.7 101.4 L394.1 102.9 L395.6 103.6 L396.7 102 L397.8 100.7 L399.2 99.8 L400.7 98.5 L402.1 94.2 L403.6 89.8 L405.1 90.6 L406.5 91.2 L408.3 92.6 L410.1 94.1 L411.6 95.9 L413 97 L414.1 90.5 L415.1 83.2 L416 81.8 L416.9 80.4 L417.9 81.5 L418.8 82.3 L419.7 80.9 L420.6 80.4 L421.6 79.2 L422.5 77.6 L423.4 78.2 L424.4 78.5 L425.4 77.6 L426.3 75.7 L427.2 72.3 L428.1 68.2 L429.1 64.2 L430 60.7 L430.9 57.7 L431.9 55 L432.9 51.4 L433.8 47.5 L434.7 48.9 L435.6 51.3 L436.6 50.8 L437.5 50.3 L438.4 50.9 L439.4 52.2 L440.4 50 L441.3 48.5 L442.2 45.7 L443.2 43.8 L444.1 41.7 L445 39.1 L446.1 37.3 L447.3 36.3 L448.5 36.5 L449.7 37.2 L450.9 36.6 L452.2 36.3 L453.3 36.2 L454.4 35.3 L455.4 36.3 L456.3 38.1 L457.2 40.9 L458.2 43.8 L459.1 44.7 L460.1 45.6 L461.2 47.4 L462.3 48.5 L463.2 47.4 L464.2 45.6" fill="none" stroke="#f06060" stroke-width="1.55" stroke-dasharray="0.4 2.6" stroke-linecap="round" stroke-linejoin="round"/></g><g clip-path="url(#c01)"><path d="M49.4 204.4 C50.3 204.4 52.8 204.1 54.9 204.6 C57 205 59.6 206.4 61.8 207.1 C63.9 207.8 66.3 209.1 67.8 208.7 C69.3 208.4 69.5 208 70.6 205.2 C71.7 202.3 72.9 195.8 74.2 191.8 C75.5 187.7 76.9 182.6 78.3 181.1 C79.7 179.6 80.8 181.6 82.4 182.6 C84 183.6 86.2 185.2 88 186.8 C89.8 188.5 91.5 190.8 93.5 192.5 C95.5 194.1 98.2 195.4 100.3 196.7 C102.4 198.1 104.3 199.8 105.9 200.5 C107.5 201.1 108.2 199.7 110 200.6 C111.8 201.4 114.8 204.6 116.9 205.4 C119 206.2 120.1 205.6 122.4 205.4 C124.7 205.2 127.8 204.2 130.6 204.3 C133.3 204.4 136.8 205.8 138.9 206.2 C141 206.7 141.2 206.9 143.3 207 C145.4 207 148.5 206.8 151.5 206.4 C154.5 205.9 158.4 205.6 161.2 204.1 C164 202.6 165.8 199.6 168.1 197.5 C170.4 195.3 172.7 192 175 191.2 C177.3 190.4 179.6 192.1 181.9 192.7 C184.2 193.4 186.1 194.3 188.8 195 C191.6 195.7 195.9 196.8 198.4 196.9 C200.9 197 202.1 195.3 203.9 195.5 C205.7 195.7 207.3 196.9 209.4 197.9 C211.5 198.9 214 200.5 216.3 201.4 C218.6 202.4 221.1 203.7 223.2 203.9 C225.3 204.1 227.1 203.2 228.7 202.7 C230.3 202.2 232.2 201.2 232.9 200.9 L232.9 216.9 C232.2 217.2 230.3 218.3 228.7 218.9 C227.1 219.5 225.3 220.6 223.2 220.5 C221.1 220.4 218.6 219.4 216.3 218.6 C214 217.7 211.5 216.3 209.4 215.5 C207.3 214.6 205.7 213.5 203.9 213.5 C202.1 213.5 200.9 215.2 198.4 215.3 C195.9 215.4 191.6 214.5 188.8 214 C186.1 213.5 184.2 212.7 181.9 212.3 C179.6 211.8 177.3 210.4 175 211.2 C172.7 212 170.4 215 168.1 216.9 C165.8 218.9 164 221.8 161.2 223.1 C158.4 224.4 154.5 224.4 151.5 224.6 C148.5 224.9 145.4 224.8 143.3 224.6 C141.2 224.5 141 224.2 138.9 223.6 C136.8 223 133.3 221.4 130.6 221.1 C127.8 220.8 124.7 221.5 122.4 221.6 C120.1 221.7 119 222.3 116.9 221.6 C114.8 220.8 111.8 217.8 110 217 C108.2 216.3 107.5 217.7 105.9 217.1 C104.3 216.6 102.4 214.9 100.3 213.7 C98.2 212.4 95.5 211.3 93.5 209.7 C91.5 208.2 89.8 205.9 88 204.4 C86.2 202.8 84 201.3 82.4 200.4 C80.8 199.5 79.7 197.9 78.3 199.1 C76.9 200.3 75.5 204.3 74.2 207.6 C72.9 211 71.7 216.8 70.6 219 C69.5 221.3 69.3 221.6 67.8 221.1 C66.3 220.6 63.9 218 61.8 216.1 C59.6 214.2 57 211.4 54.9 209.8 C52.8 208.2 50.3 207.1 49.4 206.6 Z" fill="rgba(190,190,255,0.5)"/><path d="M49.4 203.3 C50.3 203.5 53.1 203.5 54.9 204.9 C56.7 206.2 58.2 209 60.4 211.1 C62.5 213.2 66 218.4 67.8 217.6 C69.6 216.7 70.1 211.5 71.4 205.9 C72.7 200.4 73.9 191.3 75.6 184.2 C77.3 177.1 79.8 168.1 81.4 163.4 C83.1 158.7 84.2 157.7 85.5 156.1 C86.8 154.6 87.6 154.6 89 154.2 C90.4 153.8 92.2 153.7 94 153.9 C95.8 154.1 97.8 154.1 99.5 155.5 C101.2 156.8 102.5 159.3 104.5 162 C106.5 164.8 109.5 168.8 111.8 172.1 C114.1 175.3 116.5 178.3 118.6 181.4 C120.7 184.6 122.3 187.9 124.2 190.8 C126.1 193.6 128.1 196.8 129.9 198.5 C131.7 200.2 133.2 199.8 135 201.1 C136.8 202.5 138.4 204.3 140.5 206.4 C142.6 208.5 145.1 211.8 147.4 213.5 C149.7 215.2 151.3 215.7 154.3 216.4 C157.3 217.1 162.1 217.7 165.3 217.6 C168.5 217.5 170.8 217.1 173.6 215.7 C176.4 214.2 179.2 210.9 181.9 209 C184.7 207.2 187.3 205.3 190.1 204.5 C192.8 203.8 195.6 204.9 198.4 204.5 C201.2 204.1 203.9 202.9 206.7 202.2 C209.5 201.5 212.2 200.9 215 200.3 C217.8 199.7 220.9 199.1 223.2 198.6 C225.5 198.2 227.1 197.3 228.7 197.4 C230.3 197.5 232.2 199.1 232.9 199.4 L232.9 219.4 C232.2 219.1 230.3 217.6 228.7 217.6 C227.1 217.6 225.5 218.5 223.2 219.2 C220.9 219.8 217.8 220.5 215 221.3 C212.2 222.1 209.5 222.9 206.7 223.8 C203.9 224.6 201.2 226 198.4 226.5 C195.6 227.1 192.8 226.1 190.1 227.1 C187.3 228 184.7 230 181.9 232 C179.2 234 176.4 237.5 173.6 239.1 C170.8 240.7 168.5 241.3 165.3 241.6 C162.1 241.9 157.3 241.5 154.3 241 C151.3 240.5 149.7 240 147.4 238.5 C145.1 237 142.6 233.7 140.5 231.8 C138.4 229.9 136.8 228.1 135 226.9 C133.2 225.6 131.7 226.1 129.9 224.5 C128.1 222.9 126.1 220.1 124.2 217.4 C122.3 214.8 120.7 211.6 118.6 208.8 C116.5 205.9 114.1 203.1 111.8 200.1 C109.5 197.2 106.5 193.5 104.5 191 C102.5 188.4 101.2 186.1 99.5 184.9 C97.8 183.7 95.8 184 94 183.7 C92.2 183.5 90.4 183.2 89 183.4 C87.6 183.6 86.8 183.5 85.5 184.9 C84.2 186.2 83.1 187.9 81.4 191.6 C79.8 195.3 77.3 201.7 75.6 207 C73.9 212.4 72.7 219.8 71.4 223.9 C70.1 228 69.6 231.9 67.8 231.4 C66 231 62.5 224.7 60.4 221.3 C58.2 217.9 56.7 213.8 54.9 211.1 C53.1 208.5 50.3 206.5 49.4 205.5 Z" fill="rgba(255,180,180,0.5)"/><path d="M49.4 205.5 C50.3 205.8 52.8 206.2 54.9 207.2 C57 208.2 59.6 210.3 61.8 211.6 C63.9 212.9 66.3 214.8 67.8 214.9 C69.3 215 69.5 214.6 70.6 212.1 C71.7 209.6 72.9 203.4 74.2 199.7 C75.5 196 76.9 191.5 78.3 190.1 C79.7 188.7 80.8 190.6 82.4 191.5 C84 192.4 86.2 194 88 195.6 C89.8 197.2 91.5 199.5 93.5 201.1 C95.5 202.7 98.2 203.9 100.3 205.2 C102.4 206.5 104.3 208.2 105.9 208.8 C107.5 209.4 108.2 208 110 208.8 C111.8 209.6 114.8 212.7 116.9 213.5 C119 214.3 120.1 213.6 122.4 213.5 C124.7 213.4 127.8 212.5 130.6 212.7 C133.3 212.9 136.8 214.4 138.9 214.9 C141 215.4 141.2 215.7 143.3 215.8 C145.4 215.9 148.5 215.9 151.5 215.5 C154.5 215.1 158.4 215 161.2 213.6 C164 212.2 165.8 209.3 168.1 207.2 C170.4 205.1 172.7 202 175 201.2 C177.3 200.4 179.6 201.9 181.9 202.5 C184.2 203.1 186.1 203.9 188.8 204.5 C191.6 205.1 195.9 206.1 198.4 206.1 C200.9 206.1 202.1 204.4 203.9 204.5 C205.7 204.6 207.3 205.8 209.4 206.7 C211.5 207.6 214 209.1 216.3 210 C218.6 210.9 221.1 212.1 223.2 212.2 C225.3 212.3 227.1 211.4 228.7 210.8 C230.3 210.2 232.2 209.2 232.9 208.9" fill="none" stroke="#4646f0" stroke-width="1.05" stroke-linejoin="round"/><path d="M49.4 204.4 C50.3 205 53.1 206 54.9 208 C56.7 210 58.2 213.4 60.4 216.2 C62.5 218.9 66 224.7 67.8 224.5 C69.6 224.3 70.1 219.7 71.4 214.9 C72.7 210.1 73.9 201.8 75.6 195.6 C77.3 189.4 79.8 181.7 81.4 177.5 C83.1 173.3 84.2 171.9 85.5 170.5 C86.8 169.1 87.6 169.1 89 168.8 C90.4 168.5 92.2 168.6 94 168.8 C95.8 169 97.8 168.9 99.5 170.2 C101.2 171.5 102.5 173.8 104.5 176.5 C106.5 179.2 109.5 183 111.8 186.1 C114.1 189.2 116.5 192.1 118.6 195.1 C120.7 198.1 122.3 201.4 124.2 204.1 C126.1 206.8 128.1 209.8 129.9 211.5 C131.7 213.2 133.2 212.7 135 214 C136.8 215.3 138.4 217.1 140.5 219.1 C142.6 221.1 145.1 224.4 147.4 226 C149.7 227.6 151.3 228.1 154.3 228.7 C157.3 229.3 162.1 229.8 165.3 229.6 C168.5 229.4 170.8 228.9 173.6 227.4 C176.4 225.9 179.2 222.4 181.9 220.5 C184.7 218.6 187.3 216.6 190.1 215.8 C192.8 215 195.6 216 198.4 215.5 C201.2 215 203.9 213.8 206.7 213 C209.5 212.2 212.2 211.5 215 210.8 C217.8 210.1 220.9 209.5 223.2 208.9 C225.5 208.3 227.1 207.4 228.7 207.5 C230.3 207.6 232.2 209.1 232.9 209.4" fill="none" stroke="#f06060" stroke-width="1.55" stroke-dasharray="0.4 2.6" stroke-linecap="round" stroke-linejoin="round"/></g><g clip-path="url(#c11)"><path d="M281 207.1 C281.8 206.5 284 204.4 285.7 203.3 C287.4 202.1 289.4 200.2 291.2 199.9 C293 199.6 294.9 201.1 296.7 201.4 C298.4 201.7 300.3 202.4 301.7 201.5 C303.1 200.7 303.5 198.9 305 196.2 C306.5 193.5 308.4 188.6 310.5 185.4 C312.6 182.3 315.1 179.9 317.4 177.2 C319.7 174.5 322 171.9 324.3 169 C326.6 166 329.2 161.8 331.2 159.4 C333.2 157.1 334.7 155.2 336.1 154.9 C337.5 154.6 337.9 155.5 339.4 157.4 C340.9 159.3 343.1 163.2 345 166.2 C346.9 169.1 348.4 171.9 350.5 174.8 C352.6 177.7 355.1 181.1 357.4 183.7 C359.7 186.3 361.9 188.3 364.3 190.2 C366.7 192.1 369.2 194.1 371.9 195 C374.5 195.9 377.7 195.9 380.2 195.4 C382.7 194.9 384.1 192.9 387.1 192.2 C390.1 191.4 394.9 190.7 398.1 190.8 C401.3 190.9 403.4 192.3 406.4 192.9 C409.4 193.5 413 193.5 416 194.4 C419 195.4 421.6 198.4 424.3 198.7 C427.1 198.9 429.8 196.9 432.5 196 C435.2 195.1 438.3 194.3 440.8 193.4 C443.3 192.6 445.6 192 447.7 190.7 C449.8 189.5 451.4 187.3 453.2 186.1 C455 185 456.8 184 458.7 184 C460.6 184 463.4 185.8 464.3 186.1 L464.3 198.1 C463.4 197.8 460.6 196.1 458.7 196.2 C456.8 196.2 455 197.3 453.2 198.5 C451.4 199.6 449.8 202 447.7 203.3 C445.6 204.5 443.3 205.2 440.8 206.2 C438.3 207.1 435.2 208 432.5 209 C429.8 210 427.1 212.1 424.3 211.9 C421.6 211.7 419 208.8 416 207.9 C413 207.1 409.4 207.2 406.4 206.7 C403.4 206.2 401.3 204.9 398.1 205 C394.9 205.1 390.1 206.4 387.1 207.4 C384.1 208.5 382.7 210.7 380.2 211.4 C377.7 212.1 374.5 212.4 371.9 211.8 C369.2 211.2 366.7 209.4 364.3 207.8 C361.9 206.2 359.7 204.3 357.4 202.1 C355.1 199.9 352.6 197 350.5 194.4 C348.4 191.8 346.9 189.2 345 186.7 C343.1 184.1 340.9 180.4 339.4 178.8 C337.9 177.2 337.5 176.8 336.1 176.9 C334.7 177 333.2 178 331.2 179.6 C329.2 181.2 326.6 184.4 324.3 186.4 C322 188.5 319.7 190.1 317.4 192 C315.1 193.9 312.6 195.2 310.5 197.6 C308.4 199.9 306.5 204 305 206.2 C303.5 208.4 303.1 210.2 301.7 210.7 C300.3 211.2 298.4 209.9 296.7 209.2 C294.9 208.5 293 206.6 291.2 206.3 C289.4 206 287.4 206.9 285.7 207.3 C284 207.8 281.8 208.8 281 209.1 Z" fill="rgba(190,190,255,0.5)"/><path d="M281 202.4 C281.8 202.9 284 205 285.7 205.5 C287.4 206.1 289.4 206 291.2 205.8 C293 205.7 294.9 205.2 296.7 204.5 C298.5 203.8 300.6 204.4 302.2 201.6 C303.8 198.8 304.8 192.9 306.4 187.6 C308 182.3 310.1 175.4 311.9 169.7 C313.7 163.9 315.6 157.3 317.4 153.1 C319.2 148.9 321.1 145.1 322.9 144.4 C324.7 143.6 326.6 146.2 328.4 148.3 C330.2 150.5 332.1 154.3 333.9 157.3 C335.7 160.3 337.3 163.1 339.4 166.3 C341.5 169.6 344 174.1 346.3 177 C348.6 179.8 350.7 181.6 353.2 183.5 C355.7 185.4 358.7 186.9 361.5 188.3 C364.3 189.6 367.8 190.5 369.8 191.3 C371.8 192.2 371.4 192.1 373.3 193.2 C375.2 194.4 378.3 197 381.5 198.3 C384.7 199.6 389.4 201.1 392.6 201.1 C395.8 201.1 398.1 199 400.8 198.3 C403.6 197.6 405.9 196.9 409.1 196.9 C412.3 196.9 416.9 198.6 420.1 198.3 C423.3 197.9 425.6 196.4 428.4 194.8 C431.2 193.2 433.9 190.5 436.7 188.7 C439.4 186.8 442.4 185 444.9 183.9 C447.4 182.8 449.7 182.7 451.8 182.1 C453.9 181.6 455.3 179.6 457.4 180.4 C459.5 181.3 463.1 185.9 464.3 187 L464.3 207 C463.1 205.8 459.5 200.8 457.4 199.8 C455.3 198.7 453.9 200.5 451.8 200.9 C449.7 201.2 447.4 201.1 444.9 201.9 C442.4 202.6 439.4 204 436.7 205.3 C433.9 206.7 431.2 209 428.4 210.2 C425.6 211.3 423.3 212.2 420.1 212.3 C416.9 212.4 412.3 210.9 409.1 210.9 C405.9 210.9 403.6 211.6 400.8 212.3 C398.1 213 395.8 215.1 392.6 215.1 C389.4 215.1 384.7 213.3 381.5 212.3 C378.3 211.3 375.2 209.8 373.3 209.2 C371.4 208.5 371.8 208.5 369.8 208.3 C367.8 208 364.3 208.1 361.5 207.5 C358.7 207 355.7 206.3 353.2 205.1 C350.7 204 348.6 202.8 346.3 200.6 C344 198.4 341.5 194.6 339.4 191.9 C337.3 189.1 335.7 186.8 333.9 184.3 C332.1 181.8 330.2 178.5 328.4 176.9 C326.6 175.2 324.7 174.1 322.9 174.2 C321.1 174.4 319.2 175.1 317.4 177.5 C315.6 179.9 313.7 184.6 311.9 188.5 C310.1 192.5 308 197 306.4 201 C304.8 205 303.8 210.6 302.2 212.8 C300.6 215 298.5 214.1 296.7 214.3 C294.9 214.5 293 214.8 291.2 214.2 C289.4 213.6 287.4 212.3 285.7 210.7 C284 209 281.8 205.4 281 204.4 Z" fill="rgba(255,180,180,0.5)"/><path d="M281 208.1 C281.8 207.6 284 206.1 285.7 205.3 C287.4 204.5 289.4 203.1 291.2 203.1 C293 203.1 294.9 204.8 296.7 205.3 C298.4 205.8 300.3 206.8 301.7 206.1 C303.1 205.4 303.5 203.6 305 201.2 C306.5 198.8 308.4 194.3 310.5 191.5 C312.6 188.7 315.1 186.9 317.4 184.6 C319.7 182.3 322 180.2 324.3 177.7 C326.6 175.2 329.2 171.5 331.2 169.5 C333.2 167.5 334.7 166.1 336.1 165.9 C337.5 165.7 337.9 166.3 339.4 168.1 C340.9 169.8 343.1 173.7 345 176.4 C346.9 179.2 348.4 181.8 350.5 184.6 C352.6 187.3 355.1 190.5 357.4 192.9 C359.7 195.3 361.9 197.2 364.3 199 C366.7 200.8 369.2 202.7 371.9 203.4 C374.5 204.1 377.7 204 380.2 203.4 C382.7 202.8 384.1 200.7 387.1 199.8 C390.1 198.9 394.9 197.9 398.1 197.9 C401.3 197.9 403.4 199.2 406.4 199.8 C409.4 200.4 413 200.3 416 201.2 C419 202.1 421.6 205.1 424.3 205.3 C427.1 205.5 429.8 203.4 432.5 202.5 C435.2 201.6 438.3 200.7 440.8 199.8 C443.3 198.9 445.6 198.2 447.7 197 C449.8 195.8 451.4 193.5 453.2 192.3 C455 191.2 456.8 190.1 458.7 190.1 C460.6 190.1 463.4 191.8 464.3 192.1" fill="none" stroke="#4646f0" stroke-width="1.05" stroke-linejoin="round"/><path d="M281 203.4 C281.8 204.2 284 207 285.7 208.1 C287.4 209.2 289.4 209.8 291.2 210 C293 210.2 294.9 209.9 296.7 209.4 C298.5 208.9 300.6 209.7 302.2 207.2 C303.8 204.7 304.8 199 306.4 194.3 C308 189.6 310.1 183.9 311.9 179.1 C313.7 174.3 315.6 168.6 317.4 165.3 C319.2 162 321.1 159.8 322.9 159.3 C324.7 158.9 326.6 160.7 328.4 162.6 C330.2 164.5 332.1 168.1 333.9 170.8 C335.7 173.6 337.3 176.1 339.4 179.1 C341.5 182.1 344 186.3 346.3 188.8 C348.6 191.3 350.7 192.8 353.2 194.3 C355.7 195.8 358.7 197 361.5 197.9 C364.3 198.8 367.8 199.2 369.8 199.8 C371.8 200.4 371.4 200.3 373.3 201.2 C375.2 202.1 378.3 204.2 381.5 205.3 C384.7 206.5 389.4 208.1 392.6 208.1 C395.8 208.1 398.1 206 400.8 205.3 C403.6 204.6 405.9 203.9 409.1 203.9 C412.3 203.9 416.9 205.5 420.1 205.3 C423.3 205.1 425.6 203.9 428.4 202.5 C431.2 201.1 433.9 198.6 436.7 197 C439.4 195.4 442.4 193.8 444.9 192.9 C447.4 192 449.7 192 451.8 191.5 C453.9 191 455.3 189.2 457.4 190.1 C459.5 191 463.1 195.8 464.3 197" fill="none" stroke="#f06060" stroke-width="1.55" stroke-dasharray="0.4 2.6" stroke-linecap="round" stroke-linejoin="round"/></g><g clip-path="url(#c02)"><path d="M49.4 321 C50.1 320.1 51.7 318.1 53.5 315.5 C55.3 312.9 58 305.8 60.3 305.5 C62.6 305.2 65.2 311.2 67.1 313.5 C69 315.8 70.2 317.6 71.6 319.5 C73 321.4 74.2 325.2 75.6 325 C76.9 324.8 78.5 321 79.7 318 C80.9 315 81.8 307.9 82.9 307.1 C84 306.3 85.4 311.3 86.5 313 C87.6 314.7 88.2 317.6 89.7 317.5 C91.2 317.4 93.4 312 95.3 312.7 C97.2 313.4 98.9 319.4 101 321.8 C103.1 324.2 105.3 325.9 107.7 327.4 C110.1 328.9 113 331.7 115.6 330.8 C118.2 329.9 121 322.8 123.5 321.8 C126 320.9 128.4 323.4 130.3 325.1 C132.2 326.8 133.5 330.5 135 331.8 C136.5 333.1 137.8 333.5 139.5 332.9 C141.2 332.3 143.4 328.9 145.1 328.4 C146.8 327.8 147.9 330.7 149.6 329.6 C151.3 328.5 153.4 322.4 155.3 321.7 C157.2 320.9 159 324.2 160.9 325.1 C162.8 326 164.6 326.4 166.5 327.3 C168.4 328.2 170.1 331.4 172.2 330.7 C174.3 329.9 176.7 326 178.9 322.8 C181.2 319.6 183.8 312.2 185.7 311.5 C187.6 310.8 188.7 315.5 190.2 318.3 C191.7 321.1 193.2 326.3 194.7 328.4 C196.2 330.5 197.7 331.2 199.2 330.7 C200.7 330.1 202.4 324.7 203.7 325.1 C205 325.5 205.8 333 207.1 333 C208.4 333 209.9 325.3 211.6 325.1 C213.3 324.9 215.3 331.1 217.2 331.8 C219.1 332.6 221.2 330.5 222.9 329.6 C224.6 328.7 225.7 326 227.4 326.2 C229.1 326.4 232.1 329.9 233 330.7 L233 351 C232.1 351.4 229.5 352.6 227.4 353.2 C225.3 353.8 222.8 354.9 220.6 354.4 C218.3 353.8 215.8 350.8 213.9 349.9 C212 348.9 211.1 348.7 209.4 348.7 C207.7 348.7 205.4 349.7 203.7 349.9 C202 350.1 200.9 350.3 199.2 349.9 C197.5 349.5 195.3 349.1 193.6 347.6 C191.9 346.1 190.6 342.1 189.1 340.8 C187.6 339.5 186.5 338.6 184.6 339.7 C182.7 340.8 179.9 345.5 177.8 347.6 C175.7 349.7 174.1 351.9 172.2 352.1 C170.3 352.3 168.6 350.2 166.5 348.7 C164.4 347.2 161.9 343.9 159.8 343.1 C157.8 342.4 156.1 343.4 154.2 344.2 C152.3 344.9 150.2 345.9 148.5 347.6 C146.8 349.3 145.5 352.1 144 354.4 C142.5 356.6 141 361.5 139.5 361.1 C138 360.7 136.7 354.8 134.8 352.2 C132.9 349.6 130.2 346.2 128 345.5 C125.8 344.8 123.5 346.4 121.3 347.7 C119 349 117.1 354 114.5 353.4 C111.9 352.8 108.1 346.9 105.5 344.3 C102.9 341.7 101 339.1 98.7 337.6 C96.4 336.1 94.2 336.4 91.9 335.3 C89.6 334.2 87.2 330.2 85.1 330.8 C83 331.4 81.4 336.1 79.5 338.7 C77.6 341.3 75.6 347.4 73.9 346.6 C72.2 345.9 71.2 339.1 69.3 334.2 C67.4 329.3 65.2 318.9 62.6 317.2 C60 315.5 55.7 322.6 53.5 324 C51.3 325.4 50.1 325.2 49.4 325.5 Z" fill="rgba(190,190,255,0.5)"/><path d="M49.4 313.5 C50.1 313.6 51.9 316.2 53.5 314 C55.1 311.8 57.5 302.2 59.2 300.3 C60.9 298.4 62.2 302.9 63.7 302.6 C65.2 302.3 66.7 297.8 68.2 298.5 C69.7 299.2 71.2 304.9 72.7 307.1 C74.2 309.3 75.5 310.5 77.2 311.6 C78.9 312.7 80.8 312.6 82.9 313.9 C85 315.2 87.8 318.8 89.7 319.5 C91.6 320.2 92.5 318 94.2 318.4 C95.9 318.8 97.9 320.9 99.8 321.8 C101.7 322.7 103.4 324 105.5 324 C107.6 324 110.1 324.4 112.2 321.8 C114.3 319.2 116.4 308.8 117.9 308.2 C119.4 307.6 119.8 317.6 121.3 318.4 C122.8 319.1 125 313.1 126.9 312.7 C128.8 312.3 131.2 315 132.6 316.1 C133.9 317.2 134 318.5 135 319.4 C136 320.3 137 323.5 138.4 321.7 C139.8 319.9 142.3 308.2 143.6 308.8 C144.9 309.4 145.3 320.7 146.3 325.1 C147.3 329.5 148.3 333.9 149.6 335.2 C150.9 336.5 152.7 334.9 154.2 333 C155.7 331.1 157 325.6 158.7 323.9 C160.4 322.2 162.6 322.1 164.3 322.8 C166 323.6 167.1 327.1 168.8 328.4 C170.5 329.7 172.5 330.1 174.4 330.7 C176.3 331.3 178.2 331.2 180.1 331.8 C182 332.4 183.8 333.2 185.7 334.1 C187.6 335.1 189.8 338.1 191.3 337.5 C192.8 336.9 193.4 331.3 194.7 330.7 C196 330.1 197.5 333.4 199.2 334.1 C200.9 334.9 202.8 335.4 204.9 335.2 C207 335 209.9 332.1 211.6 333 C213.3 333.9 213.5 338.9 215 340.8 C216.5 342.7 218.9 344 220.6 344.2 C222.3 344.4 223.6 341.8 225.1 342 C226.6 342.2 228.3 345.1 229.6 345.3 C230.9 345.5 232.4 343.5 233 343.1 L233 363.8 C231.1 363.8 224.6 364.1 221.8 363.8 C219 363.5 217.8 363.8 216.1 362.2 C214.4 360.6 213.3 354.9 211.6 354.4 C209.9 353.8 207.8 358.3 205.9 358.9 C204 359.4 202.2 357.3 200.3 357.7 C198.4 358.1 196.6 361.3 194.7 361.1 C192.8 360.9 191.2 357.9 189.1 356.6 C187 355.3 184.2 354.3 182.3 353.2 C180.4 352.1 179.5 350.3 177.8 349.9 C176.1 349.5 174.1 350.6 172.2 351 C170.3 351.4 168.6 352.3 166.5 352.1 C164.4 351.9 161.5 349 159.8 349.9 C158.1 350.8 157.9 357.1 156.4 357.7 C154.9 358.2 152.5 354.9 150.8 353.2 C149.1 351.5 148 349.9 146.3 347.6 C144.6 345.4 142.5 341 140.6 339.7 C138.7 338.4 136.3 340 135 339.7 C133.7 339.4 134.1 338 132.6 337.6 C131.1 337.2 128.1 336.7 125.8 337.6 C123.5 338.5 120.9 343.2 119 343.2 C117.1 343.2 116.4 337.6 114.5 337.6 C112.6 337.6 109.6 342.6 107.7 343.2 C105.8 343.8 104.9 342 103.2 340.9 C101.5 339.8 99.5 336.2 97.6 336.4 C95.7 336.6 94 342.5 91.9 342.1 C89.8 341.7 87.3 336.5 85.1 334.2 C82.8 331.9 80.7 330.2 78.4 328.5 C76.2 326.8 74.2 325.8 71.6 324 C69 322.2 64.9 318.1 62.6 317.5 C60.3 316.9 59.2 319.2 57.7 320.5 C56.2 321.8 54.9 325.6 53.5 325.5 C52.1 325.4 50.1 320.9 49.4 320 Z" fill="rgba(255,180,180,0.5)"/><path d="M49.4 323.3 C50.1 322.6 52.1 320.8 53.5 319.1 C54.9 317.4 56.4 314.6 57.7 313.1 C59 311.6 60.1 310.3 61.2 310.3 C62.3 310.3 63.2 311 64.5 313.1 C65.8 315.2 67.3 319.5 68.7 322.7 C70.1 325.9 71.7 330.2 72.8 332.4 C73.9 334.6 74.4 336.2 75.6 335.7 C76.8 335.2 78.3 332.2 79.7 329.6 C81.1 327 82.4 321.1 83.8 320 C85.2 318.9 86.6 321.8 88 322.7 C89.4 323.6 90.7 325.3 92.1 325.5 C93.5 325.7 94.6 324 96.2 324.1 C97.8 324.2 99.6 325.2 101.7 326.3 C103.8 327.4 106.3 328.2 108.6 331 C110.9 333.8 113.7 341.7 115.5 342.8 C117.3 343.9 118 340 119.6 337.9 C121.2 335.8 123.3 331.1 125.1 330.2 C126.9 329.3 128.8 330.4 130.6 332.4 C132.4 334.4 134.5 339.7 136.1 342 C137.7 344.3 138.8 345.5 140 346.1 C141.2 346.7 142.1 347.1 143.3 345.7 C144.5 344.3 145.8 339.1 147.4 338 C149 336.9 150.6 340.2 152.9 339.3 C155.2 338.4 158.7 332.6 161.2 332.4 C163.7 332.2 165.8 336.4 168.1 338 C170.4 339.6 172.9 343 175 342.1 C177.1 341.2 178.7 335.5 180.5 332.4 C182.3 329.3 184.4 324.1 186 323.6 C187.6 323.2 188.7 326.9 190.1 329.7 C191.5 332.5 192.7 339.1 194.3 340.7 C195.9 342.3 198 338.9 199.8 339.3 C201.6 339.7 203.5 343.8 205.3 342.9 C207.1 342 208.7 333.3 210.8 333.8 C212.9 334.3 215.4 344.8 217.7 345.7 C220 346.6 222.1 340.2 224.6 339.3 C227.1 338.4 231.5 340.1 232.9 340.2" fill="none" stroke="#4646f0" stroke-width="1.05" stroke-linejoin="round"/><path d="M49.4 317.2 C50.1 318.1 52.1 324.1 53.5 322.7 C54.9 321.3 56.3 311.3 57.7 309 C59.1 306.7 60.2 309 61.8 309 C63.4 309 65.5 308.1 67.3 309 C69.1 309.9 71 312.7 72.8 314.5 C74.6 316.3 76.5 318.6 78.3 320 C80.1 321.4 82 321.1 83.8 322.7 C85.6 324.3 87.5 329.1 89.3 329.6 C91.1 330.1 92.7 325.5 94.8 325.5 C96.9 325.5 99.4 328.8 101.7 329.6 C104 330.4 106.5 330.6 108.6 330.2 C110.7 329.8 112.3 328.6 114.1 326.9 C115.9 325.2 118 319.1 119.6 320 C121.2 320.9 122.2 331.9 123.8 332.4 C125.4 332.8 127.5 323.6 129.3 322.7 C131.1 321.8 133.2 325.5 134.8 326.9 C136.4 328.3 137.7 331.9 139.1 331.1 C140.5 330.3 141.9 322 143.3 322 C144.7 322 146 328.5 147.4 331.1 C148.8 333.8 149.9 335.4 151.5 337.9 C153.1 340.4 155.2 346.4 157.1 346.2 C158.9 346 160.5 337.8 162.6 336.6 C164.7 335.5 167.2 338.6 169.5 339.3 C171.8 340 174.1 340.7 176.4 340.7 C178.7 340.7 180.9 339.1 183.2 339.3 C185.5 339.5 188 340.5 190.1 342.1 C192.2 343.7 193.8 348.4 195.7 349 C197.5 349.6 199.4 346.2 201.2 345.7 C203 345.2 204.9 346.6 206.7 346.2 C208.5 345.8 210.4 342.4 212.2 343.5 C214 344.6 216.1 350.8 217.7 353.1 C219.3 355.4 220.4 357.5 221.8 357.3 C223.2 357.1 224.6 352.2 226 351.7 C227.4 351.2 228.9 354.5 230.1 354.5 C231.2 354.5 232.4 352.2 232.9 351.7" fill="none" stroke="#f06060" stroke-width="1.55" stroke-dasharray="0.4 2.6" stroke-linecap="round" stroke-linejoin="round"/></g><g clip-path="url(#c12)"><path d="M281 319 C281.2 318.9 281.2 319.4 282.4 318.5 C283.6 317.6 286.3 317.5 288 313.9 C289.7 310.3 290.8 302.8 292.5 297 C294.2 291.2 296.5 283.2 298.2 279 C299.9 274.8 301.4 271.8 302.7 271.8 C304 271.8 305 276.5 306.1 279 C307.2 281.5 307.9 284.6 309.4 286.9 C310.9 289.1 313.2 292.1 315.1 292.5 C317 292.9 318.8 290.1 320.7 289.2 C322.6 288.3 324.6 286.3 326.3 286.9 C328 287.4 329.3 289.7 330.8 292.5 C332.3 295.3 333.4 300.8 335.3 303.8 C337.2 306.8 340 309.7 342.1 310.6 C344.2 311.5 346 308.8 347.7 309.4 C349.4 309.9 350.5 312.9 352.2 313.9 C353.9 314.8 356 316.6 357.9 315.1 C359.8 313.6 362.3 306.8 363.5 304.9 C364.7 303 364 303.1 365 304 C366 304.9 367.8 308.2 369.5 310.4 C371.2 312.6 373 315.7 375.1 317.2 C377.2 318.7 379.8 319 381.9 319.4 C384 319.8 385.6 318.6 387.5 319.4 C389.4 320.1 391.3 324.8 393.2 323.9 C395.1 323 396.9 317.2 398.8 313.8 C400.7 310.4 402.9 305.2 404.4 303.7 C405.9 302.2 406.5 302.2 407.8 304.8 C409.1 307.4 410.6 316.4 412.3 319.4 C414 322.4 415.9 322.8 418 322.8 C420.1 322.8 422.4 320.7 424.7 319.4 C426.9 318.1 429.4 315.3 431.5 314.9 C433.6 314.5 435.4 316.2 437.1 317.2 C438.8 318.1 439.9 320.2 441.6 320.6 C443.3 321 445.5 320 447.2 319.4 C448.9 318.8 450.1 317.6 451.8 317.2 C453.5 316.8 455.7 317.8 457.4 317.2 C459.1 316.6 460.8 314.4 461.9 313.8 C463 313.2 463.7 313.4 464.1 313.3 L464.1 330.7 C463.7 330.9 463.2 330.7 461.9 331.8 C460.6 332.9 458.2 335.6 456.3 337.5 C454.4 339.4 452.5 342.7 450.6 343.1 C448.7 343.5 446.9 339.1 445 339.7 C443.1 340.3 441.1 346.1 439.4 346.5 C437.7 346.9 436.8 343.5 434.9 342 C433 340.5 430.2 337.7 428.1 337.5 C426 337.3 424.6 340.2 422.5 340.8 C420.4 341.4 417.8 342.3 415.7 340.8 C413.6 339.3 411.8 334.4 410.1 331.8 C408.4 329.2 407.3 325.7 405.6 325.1 C403.9 324.5 401.8 327.3 399.9 328.4 C398 329.5 396 330.5 394.3 331.8 C392.6 333.1 391.5 335.9 389.8 336.3 C388.1 336.7 386.3 334.5 384.2 334.1 C382.1 333.7 379.7 334.5 377.4 334.1 C375.1 333.7 372.7 333.3 370.6 331.8 C368.5 330.3 366.5 325.6 364.6 325.2 C362.7 324.8 361.2 329.9 359 329.7 C356.8 329.5 353.5 324.5 351.1 324.1 C348.7 323.7 346.6 327.5 344.4 327.5 C342.1 327.5 339.9 326.2 337.6 324.1 C335.3 322 332.9 317.6 330.8 315.1 C328.7 312.7 327.1 310.5 325.2 309.4 C323.3 308.3 321.5 308.3 319.6 308.3 C317.7 308.3 315.8 310 313.9 309.4 C312 308.8 310 307.1 308.3 304.9 C306.6 302.6 305.5 297.6 303.8 295.9 C302.1 294.2 300.1 292.9 298.2 294.8 C296.3 296.7 294.2 302.7 292.5 307.2 C290.8 311.7 289.7 319.1 288 321.8 C286.3 324.5 283.6 323.3 282.4 323.5 C281.2 323.7 281.2 323.1 281 323 Z" fill="rgba(190,190,255,0.5)"/><path d="M281 315.5 C282.2 316 285.9 320.9 288 318.4 C290.1 315.9 291.8 306.2 293.7 300.4 C295.6 294.6 297.6 286.3 299.3 283.5 C301 280.7 302.1 284.1 303.8 283.5 C305.5 282.9 307.5 280.7 309.4 280.1 C311.3 279.5 313 279.4 315.1 280.1 C317.2 280.9 319.6 283.5 321.8 284.6 C324.1 285.7 326.5 285.6 328.6 286.9 C330.7 288.2 332.5 290.6 334.2 292.5 C335.9 294.4 337 295.6 338.7 298.2 C340.4 300.8 342.5 305.3 344.4 308.3 C346.3 311.3 347.9 314.5 350 316.2 C352.1 317.9 354.9 319.9 356.8 318.4 C358.7 316.9 359.9 308.7 361.3 307.2 C362.7 305.7 363.2 308.8 365 309.3 C366.8 309.8 369.6 310.2 371.8 310.4 C374.1 310.6 376.2 310.2 378.5 310.4 C380.8 310.6 383.4 310.2 385.3 311.5 C387.2 312.8 388.3 317.9 389.8 318.3 C391.3 318.7 392.6 314.6 394.3 313.8 C396 313.1 398 313.2 399.9 313.8 C401.8 314.4 403.7 315.5 405.6 317.2 C407.5 318.9 409.3 323.3 411.2 323.9 C413.1 324.5 415.1 321.9 416.8 320.6 C418.5 319.3 419.8 315.2 421.3 316.1 C422.8 317 423.9 325.1 425.8 326.2 C427.7 327.3 430.3 323.9 432.6 322.8 C434.9 321.7 437.1 320.3 439.4 319.4 C441.6 318.5 444 317.9 446.1 317.2 C448.2 316.4 449.9 314.9 451.8 314.9 C453.7 314.9 455.3 316.4 457.4 317.2 C459.4 317.9 463 319 464.1 319.4 L464.1 342 C463 340.6 459.4 336.2 457.4 333.9 C455.3 331.6 453.9 328.9 451.8 328.4 C449.7 327.9 447.3 329.6 445 330.7 C442.7 331.8 440.4 333.9 438.2 335.2 C435.9 336.5 433.6 336.9 431.5 338.6 C429.4 340.3 427.7 345.7 425.8 345.3 C423.9 344.9 422.1 336.9 420.2 336.3 C418.3 335.8 416.3 341.8 414.6 342 C412.9 342.2 411.6 338.8 410.1 337.5 C408.6 336.2 407.5 335.1 405.6 334.1 C403.7 333.2 400.9 330.9 398.8 331.8 C396.7 332.7 394.7 339.9 393.2 339.7 C391.7 339.5 391.5 333.3 389.8 330.7 C388.1 328.1 385.2 325.1 383 324 C380.8 322.9 378.6 323.3 376.3 324 C374.1 324.7 371.4 328.6 369.5 328.4 C367.6 328.2 366.2 324.3 365 323 C363.8 321.7 364 319.8 362.4 320.7 C360.8 321.6 357.9 327.9 355.6 328.6 C353.4 329.4 351.1 325.9 348.9 325.2 C346.6 324.4 344.4 325.4 342.1 324.1 C339.8 322.8 337.4 319 335.3 317.3 C333.2 315.6 331.6 315.1 329.7 314 C327.8 312.9 326 312.3 324.1 310.6 C322.2 308.9 320.5 305.5 318.4 303.8 C316.3 302.1 313.8 300.4 311.7 300.4 C309.6 300.4 307.4 304.2 306.1 303.8 C304.8 303.4 304.9 299.7 303.8 298.2 C302.7 296.7 300.8 292.9 299.3 294.8 C297.8 296.7 296.1 303.9 294.8 309.4 C293.5 314.8 292.7 325.1 291.4 327.5 C290.1 329.9 288.6 325.4 286.9 324.1 C285.2 322.9 282 320.7 281 320 Z" fill="rgba(255,180,180,0.5)"/><path d="M281 320.9 C281.6 321.1 283.7 322.8 284.9 322 C286.1 321.2 287.1 319.2 288.4 315.9 C289.7 312.6 291.2 306.2 292.6 302.1 C294 298 295.1 294.1 296.7 291.1 C298.3 288.1 300.6 284.7 302.2 284.2 C303.8 283.7 305 286 306.4 288.3 C307.8 290.6 309.1 295.8 310.5 298 C311.9 300.2 313 301.5 314.6 301.6 C316.2 301.7 318.4 299.7 320.1 298.8 C321.9 297.9 323.5 295.7 325.1 296 C326.7 296.3 328.1 298.3 329.8 300.7 C331.5 303.1 333.5 308.1 335.3 310.4 C337.1 312.7 339 313.2 340.8 314.5 C342.6 315.8 344.7 317.9 346.3 318.1 C347.9 318.3 348.6 315.2 350.5 315.9 C352.4 316.5 355.6 321.6 357.4 322 C359.2 322.4 360.2 319.7 361.5 318.1 C362.8 316.6 363.9 312.7 365 312.7 C366.1 312.7 367.3 316.4 368.4 318.3 C369.5 320.2 370.5 322.6 371.8 323.9 C373.1 325.2 374.6 326 376.3 326.2 C378 326.4 380.2 325.5 381.9 325.1 C383.6 324.7 385.1 323.5 386.4 323.9 C387.7 324.3 388.7 326.3 389.8 327.3 C390.9 328.3 392.1 330.4 393.2 330 C394.3 329.6 395.2 326.9 396.5 325.1 C397.8 323.3 399.6 321 401.1 319.4 C402.6 317.8 404.3 315.4 405.6 315.6 C406.9 315.8 407.8 318.5 408.9 320.6 C410 322.7 411.2 326.4 412.3 328.4 C413.4 330.3 414.2 331.7 415.7 332.3 C417.2 332.9 419.4 332.5 421.3 331.8 C423.2 331.1 425.3 329.3 427 328.4 C428.7 327.5 430.2 326.2 431.5 326.2 C432.8 326.2 433.8 327.3 434.9 328.4 C436 329.5 436.9 331.5 438.2 333 C439.5 334.5 441.3 337.5 442.7 337.5 C444.1 337.5 445.5 334.5 446.6 333 C447.7 331.5 448.4 328.4 449.5 328.4 C450.6 328.4 452 331.9 452.9 333 C453.8 334.1 454.2 335.8 455.1 335.2 C456 334.6 457.6 331.3 458.5 329.6 C459.4 327.9 459.9 326.5 460.8 325.1 C461.7 323.7 463.6 321.7 464.1 321" fill="none" stroke="#4646f0" stroke-width="1.05" stroke-linejoin="round"/><path d="M281 317.3 C281.6 318.1 283.1 321.1 284.3 322 C285.5 322.9 287 323.8 288.4 322.8 C289.8 321.8 291.2 320.3 292.6 315.9 C294 311.5 295.3 301.4 296.7 296.6 C298.1 291.8 299.2 287.4 300.8 286.9 C302.4 286.4 304.5 293.5 306.4 293.8 C308.2 294.1 309.8 289.1 311.9 288.9 C314 288.7 316.5 290.5 318.8 292.5 C321.1 294.5 323.4 298.6 325.7 300.7 C328 302.8 330.2 303 332.5 304.9 C334.8 306.8 336.9 309.3 339.4 311.8 C341.9 314.3 345.2 318.4 347.7 320 C350.2 321.6 352.5 322.8 354.6 321.4 C356.7 320 358.4 312.5 360.1 311.8 C361.8 311.1 363.4 316.9 365 317.2 C366.6 317.5 367.8 313.8 369.5 313.8 C371.2 313.8 373.2 316.8 375.1 317.2 C377 317.6 378.9 316.5 380.8 316.1 C382.7 315.7 385.1 314 386.4 314.9 C387.7 315.8 387.8 319.4 388.7 321.7 C389.6 323.9 390.9 328.4 392 328.4 C393.1 328.4 394.3 323.4 395.4 321.7 C396.5 320 397.5 317.9 398.8 318.3 C400.1 318.7 402 322.2 403.3 323.9 C404.6 325.6 405.6 327.1 406.7 328.4 C407.8 329.7 409 331.8 410.1 331.8 C411.2 331.8 412.3 329.5 413.4 328.4 C414.5 327.3 415.7 326.2 416.8 325.1 C417.9 324 419.1 321.1 420.2 321.7 C421.3 322.2 422.7 326.5 423.6 328.4 C424.5 330.3 424.9 333 425.8 333 C426.7 333 428.1 329.5 429.2 328.4 C430.3 327.3 431.3 326.6 432.6 326.2 C433.9 325.8 435.6 326.6 437.1 326.2 C438.6 325.8 440.1 324.6 441.6 323.9 C443.1 323.1 444.8 322.2 446.1 321.7 C447.4 321.1 448.2 320.4 449.5 320.6 C450.8 320.8 452.5 321.9 454 322.8 C455.5 323.7 456.8 324.5 458.5 326.2 C460.2 327.9 463.2 331.9 464.1 333" fill="none" stroke="#f06060" stroke-width="1.55" stroke-dasharray="0.4 2.6" stroke-linecap="round" stroke-linejoin="round"/></g><line x1="37.5" y1="116.4" x2="242" y2="116.4" stroke="#f1f1f1" stroke-width="3.4"/><line x1="37.5" y1="14.5" x2="37.5" y2="116.4" stroke="#a6a6a6" stroke-width="1.3"/><line x1="36.9" y1="116.4" x2="242" y2="116.4" stroke="#8d8d8d" stroke-width="1.4"/><line x1="55.1" y1="116.4" x2="55.1" y2="113.8" stroke="#5a5a5a" stroke-width="1.4"/><text x="55.1" y="131" text-anchor="middle" font-family="Liberation Serif, serif" font-size="11.2" fill="#111" stroke="#111" stroke-width="0.2">0</text><line x1="99.6" y1="116.4" x2="99.6" y2="113.8" stroke="#5a5a5a" stroke-width="1.4"/><text x="99.6" y="131" text-anchor="middle" font-family="Liberation Serif, serif" font-size="11.2" fill="#111" stroke="#111" stroke-width="0.2">0.25</text><line x1="144.1" y1="116.4" x2="144.1" y2="113.8" stroke="#5a5a5a" stroke-width="1.4"/><text x="144.1" y="131" text-anchor="middle" font-family="Liberation Serif, serif" font-size="11.2" fill="#111" stroke="#111" stroke-width="0.2">0.5</text><line x1="188.6" y1="116.4" x2="188.6" y2="113.8" stroke="#5a5a5a" stroke-width="1.4"/><text x="188.6" y="131" text-anchor="middle" font-family="Liberation Serif, serif" font-size="11.2" fill="#111" stroke="#111" stroke-width="0.2">0.75</text><line x1="233.1" y1="116.4" x2="233.1" y2="113.8" stroke="#5a5a5a" stroke-width="1.4"/><text x="233.1" y="131" text-anchor="middle" font-family="Liberation Serif, serif" font-size="11.2" fill="#111" stroke="#111" stroke-width="0.2">1</text><line x1="37.5" y1="38.9" x2="40.1" y2="38.9" stroke="#5a5a5a" stroke-width="1.4"/><text x="33.4" y="42.5" text-anchor="end" font-family="Liberation Serif, serif" font-size="11.2" fill="#111" stroke="#111" stroke-width="0.2">1</text><line x1="37.5" y1="69.7" x2="40.1" y2="69.7" stroke="#5a5a5a" stroke-width="1.4"/><text x="33.4" y="73.5" text-anchor="end" font-family="Liberation Serif, serif" font-size="11.2" fill="#111" stroke="#111" stroke-width="0.2">0</text><line x1="37.5" y1="100.6" x2="40.1" y2="100.6" stroke="#5a5a5a" stroke-width="1.4"/><text x="33.4" y="104.5" text-anchor="end" font-family="Liberation Serif, serif" font-size="11.2" fill="#111" stroke="#111" stroke-width="0.2">-1</text><line x1="37.5" y1="240.6" x2="242" y2="240.6" stroke="#f1f1f1" stroke-width="3.4"/><line x1="37.5" y1="138.5" x2="37.5" y2="240.6" stroke="#a6a6a6" stroke-width="1.3"/><line x1="36.9" y1="240.6" x2="242" y2="240.6" stroke="#8d8d8d" stroke-width="1.4"/><line x1="55.1" y1="240.6" x2="55.1" y2="238" stroke="#5a5a5a" stroke-width="1.4"/><text x="55.1" y="255.2" text-anchor="middle" font-family="Liberation Serif, serif" font-size="11.2" fill="#111" stroke="#111" stroke-width="0.2">0</text><line x1="114.4" y1="240.6" x2="114.4" y2="238" stroke="#5a5a5a" stroke-width="1.4"/><text x="114.4" y="255.2" text-anchor="middle" font-family="Liberation Serif, serif" font-size="11.2" fill="#111" stroke="#111" stroke-width="0.2">10</text><line x1="173.8" y1="240.6" x2="173.8" y2="238" stroke="#5a5a5a" stroke-width="1.4"/><text x="173.8" y="255.2" text-anchor="middle" font-family="Liberation Serif, serif" font-size="11.2" fill="#111" stroke="#111" stroke-width="0.2">20</text><line x1="233.1" y1="240.6" x2="233.1" y2="238" stroke="#5a5a5a" stroke-width="1.4"/><text x="233.1" y="255.2" text-anchor="middle" font-family="Liberation Serif, serif" font-size="11.2" fill="#111" stroke="#111" stroke-width="0.2">30</text><line x1="37.5" y1="152" x2="40.1" y2="152" stroke="#5a5a5a" stroke-width="1.4"/><text x="33.4" y="156.4" text-anchor="end" font-family="Liberation Serif, serif" font-size="11.2" fill="#111" stroke="#111" stroke-width="0.2">0.4</text><line x1="37.5" y1="179.3" x2="40.1" y2="179.3" stroke="#5a5a5a" stroke-width="1.4"/><text x="33.4" y="183.5" text-anchor="end" font-family="Liberation Serif, serif" font-size="11.2" fill="#111" stroke="#111" stroke-width="0.2">0.2</text><line x1="37.5" y1="206.4" x2="40.1" y2="206.4" stroke="#5a5a5a" stroke-width="1.4"/><text x="33.4" y="210.6" text-anchor="end" font-family="Liberation Serif, serif" font-size="11.2" fill="#111" stroke="#111" stroke-width="0.2">0</text><line x1="37.5" y1="233.5" x2="40.1" y2="233.5" stroke="#5a5a5a" stroke-width="1.4"/><text x="33.4" y="237.7" text-anchor="end" font-family="Liberation Serif, serif" font-size="11.2" fill="#111" stroke="#111" stroke-width="0.2">-0.2</text><line x1="37.5" y1="364.3" x2="242" y2="364.3" stroke="#f1f1f1" stroke-width="3.4"/><line x1="37.5" y1="262.8" x2="37.5" y2="364.3" stroke="#a6a6a6" stroke-width="1.3"/><line x1="36.9" y1="364.3" x2="242" y2="364.3" stroke="#6a6a6a" stroke-width="1.4"/><line x1="55.1" y1="364.3" x2="55.1" y2="361.7" stroke="#5a5a5a" stroke-width="1.4"/><text x="55.1" y="378.9" text-anchor="middle" font-family="Liberation Serif, serif" font-size="11.2" fill="#111" stroke="#111" stroke-width="0.2">0</text><line x1="114.4" y1="364.3" x2="114.4" y2="361.7" stroke="#5a5a5a" stroke-width="1.4"/><text x="114.4" y="378.9" text-anchor="middle" font-family="Liberation Serif, serif" font-size="11.2" fill="#111" stroke="#111" stroke-width="0.2">10</text><line x1="173.8" y1="364.3" x2="173.8" y2="361.7" stroke="#5a5a5a" stroke-width="1.4"/><text x="173.8" y="378.9" text-anchor="middle" font-family="Liberation Serif, serif" font-size="11.2" fill="#111" stroke="#111" stroke-width="0.2">20</text><line x1="233.1" y1="364.3" x2="233.1" y2="361.7" stroke="#5a5a5a" stroke-width="1.4"/><text x="233.1" y="378.9" text-anchor="middle" font-family="Liberation Serif, serif" font-size="11.2" fill="#111" stroke="#111" stroke-width="0.2">30</text><line x1="37.5" y1="262.9" x2="40.1" y2="262.9" stroke="#5a5a5a" stroke-width="1.4"/><text x="33.4" y="267.3" text-anchor="end" font-family="Liberation Serif, serif" font-size="11.2" fill="#111" stroke="#111" stroke-width="0.2">40</text><line x1="37.5" y1="291.7" x2="40.1" y2="291.7" stroke="#5a5a5a" stroke-width="1.4"/><text x="33.4" y="296.2" text-anchor="end" font-family="Liberation Serif, serif" font-size="11.2" fill="#111" stroke="#111" stroke-width="0.2">20</text><line x1="37.5" y1="320.6" x2="40.1" y2="320.6" stroke="#5a5a5a" stroke-width="1.4"/><text x="33.4" y="325.2" text-anchor="end" font-family="Liberation Serif, serif" font-size="11.2" fill="#111" stroke="#111" stroke-width="0.2">0</text><line x1="37.5" y1="349.6" x2="40.1" y2="349.6" stroke="#5a5a5a" stroke-width="1.4"/><text x="33.4" y="354.2" text-anchor="end" font-family="Liberation Serif, serif" font-size="11.2" fill="#111" stroke="#111" stroke-width="0.2">-20</text><line x1="269.5" y1="116.4" x2="473.8" y2="116.4" stroke="#f1f1f1" stroke-width="3.4"/><line x1="269.5" y1="14.5" x2="269.5" y2="116.4" stroke="#8a8a8a" stroke-width="1.3"/><line x1="268.9" y1="116.4" x2="473.8" y2="116.4" stroke="#8d8d8d" stroke-width="1.4"/><line x1="287" y1="116.4" x2="287" y2="113.8" stroke="#5a5a5a" stroke-width="1.4"/><text x="287" y="131" text-anchor="middle" font-family="Liberation Serif, serif" font-size="11.2" fill="#111" stroke="#111" stroke-width="0.2">0</text><line x1="331.5" y1="116.4" x2="331.5" y2="113.8" stroke="#5a5a5a" stroke-width="1.4"/><text x="331.5" y="131" text-anchor="middle" font-family="Liberation Serif, serif" font-size="11.2" fill="#111" stroke="#111" stroke-width="0.2">0.25</text><line x1="376" y1="116.4" x2="376" y2="113.8" stroke="#5a5a5a" stroke-width="1.4"/><text x="376" y="131" text-anchor="middle" font-family="Liberation Serif, serif" font-size="11.2" fill="#111" stroke="#111" stroke-width="0.2">0.5</text><line x1="420.5" y1="116.4" x2="420.5" y2="113.8" stroke="#5a5a5a" stroke-width="1.4"/><text x="420.5" y="131" text-anchor="middle" font-family="Liberation Serif, serif" font-size="11.2" fill="#111" stroke="#111" stroke-width="0.2">0.75</text><line x1="465" y1="116.4" x2="465" y2="113.8" stroke="#5a5a5a" stroke-width="1.4"/><text x="465" y="131" text-anchor="middle" font-family="Liberation Serif, serif" font-size="11.2" fill="#111" stroke="#111" stroke-width="0.2">1</text><line x1="269.5" y1="38.9" x2="272.1" y2="38.9" stroke="#5a5a5a" stroke-width="1.4"/><line x1="269.5" y1="69.7" x2="272.1" y2="69.7" stroke="#5a5a5a" stroke-width="1.4"/><line x1="269.5" y1="100.6" x2="272.1" y2="100.6" stroke="#5a5a5a" stroke-width="1.4"/><line x1="269.5" y1="240.6" x2="473.8" y2="240.6" stroke="#f1f1f1" stroke-width="3.4"/><line x1="269.5" y1="138.5" x2="269.5" y2="240.6" stroke="#8a8a8a" stroke-width="1.3"/><line x1="268.9" y1="240.6" x2="473.8" y2="240.6" stroke="#8d8d8d" stroke-width="1.4"/><line x1="287" y1="240.6" x2="287" y2="238" stroke="#5a5a5a" stroke-width="1.4"/><text x="287" y="255.2" text-anchor="middle" font-family="Liberation Serif, serif" font-size="11.2" fill="#111" stroke="#111" stroke-width="0.2">0</text><line x1="346.3" y1="240.6" x2="346.3" y2="238" stroke="#5a5a5a" stroke-width="1.4"/><text x="346.3" y="255.2" text-anchor="middle" font-family="Liberation Serif, serif" font-size="11.2" fill="#111" stroke="#111" stroke-width="0.2">10</text><line x1="405.7" y1="240.6" x2="405.7" y2="238" stroke="#5a5a5a" stroke-width="1.4"/><text x="405.7" y="255.2" text-anchor="middle" font-family="Liberation Serif, serif" font-size="11.2" fill="#111" stroke="#111" stroke-width="0.2">20</text><line x1="465" y1="240.6" x2="465" y2="238" stroke="#5a5a5a" stroke-width="1.4"/><text x="465" y="255.2" text-anchor="middle" font-family="Liberation Serif, serif" font-size="11.2" fill="#111" stroke="#111" stroke-width="0.2">30</text><line x1="269.5" y1="152" x2="272.1" y2="152" stroke="#5a5a5a" stroke-width="1.4"/><line x1="269.5" y1="179.3" x2="272.1" y2="179.3" stroke="#5a5a5a" stroke-width="1.4"/><line x1="269.5" y1="206.4" x2="272.1" y2="206.4" stroke="#5a5a5a" stroke-width="1.4"/><line x1="269.5" y1="233.5" x2="272.1" y2="233.5" stroke="#5a5a5a" stroke-width="1.4"/><line x1="269.5" y1="364.3" x2="473.8" y2="364.3" stroke="#f1f1f1" stroke-width="3.4"/><line x1="269.5" y1="262.8" x2="269.5" y2="364.3" stroke="#8a8a8a" stroke-width="1.3"/><line x1="268.9" y1="364.3" x2="473.8" y2="364.3" stroke="#6a6a6a" stroke-width="1.4"/><line x1="287" y1="364.3" x2="287" y2="361.7" stroke="#5a5a5a" stroke-width="1.4"/><text x="287" y="378.9" text-anchor="middle" font-family="Liberation Serif, serif" font-size="11.2" fill="#111" stroke="#111" stroke-width="0.2">0</text><line x1="346.3" y1="364.3" x2="346.3" y2="361.7" stroke="#5a5a5a" stroke-width="1.4"/><text x="346.3" y="378.9" text-anchor="middle" font-family="Liberation Serif, serif" font-size="11.2" fill="#111" stroke="#111" stroke-width="0.2">10</text><line x1="405.7" y1="364.3" x2="405.7" y2="361.7" stroke="#5a5a5a" stroke-width="1.4"/><text x="405.7" y="378.9" text-anchor="middle" font-family="Liberation Serif, serif" font-size="11.2" fill="#111" stroke="#111" stroke-width="0.2">20</text><line x1="465" y1="364.3" x2="465" y2="361.7" stroke="#5a5a5a" stroke-width="1.4"/><text x="465" y="378.9" text-anchor="middle" font-family="Liberation Serif, serif" font-size="11.2" fill="#111" stroke="#111" stroke-width="0.2">30</text><line x1="269.5" y1="262.9" x2="272.1" y2="262.9" stroke="#5a5a5a" stroke-width="1.4"/><line x1="269.5" y1="291.7" x2="272.1" y2="291.7" stroke="#5a5a5a" stroke-width="1.4"/><line x1="269.5" y1="320.6" x2="272.1" y2="320.6" stroke="#5a5a5a" stroke-width="1.4"/><line x1="269.5" y1="349.6" x2="272.1" y2="349.6" stroke="#5a5a5a" stroke-width="1.4"/><text transform="translate(18.5 65.4) rotate(-90)" text-anchor="middle" font-family="Liberation Serif, serif" font-size="12.5" fill="#111" stroke="#111" stroke-width="0.1">EEG [<tspan font-style="italic">&#956;</tspan>V]</text><text transform="translate(12.3 189.4) rotate(-90)" text-anchor="middle" font-family="Liberation Serif, serif" font-size="12" fill="#111" stroke="#111" stroke-width="0.1">EDA [-]</text><text transform="translate(12.1 315.2) rotate(-90)" text-anchor="middle" font-family="Liberation Serif, serif" font-size="12" fill="#111" stroke="#111" stroke-width="0.1">IBI [ms]</text><text x="255.4" y="396.3" text-anchor="middle" font-family="Liberation Serif, serif" font-size="12.3" fill="#111" stroke="#111" stroke-width="0.15">Time [s]</text><text x="18.7" y="11.3" font-family="Liberation Serif, serif" font-size="14.5" font-weight="bold" fill="#000">(a)</text><text x="249.7" y="11.2" font-family="Liberation Serif, serif" font-size="14.5" font-weight="bold" fill="#000">(b)</text></svg></body></html>
